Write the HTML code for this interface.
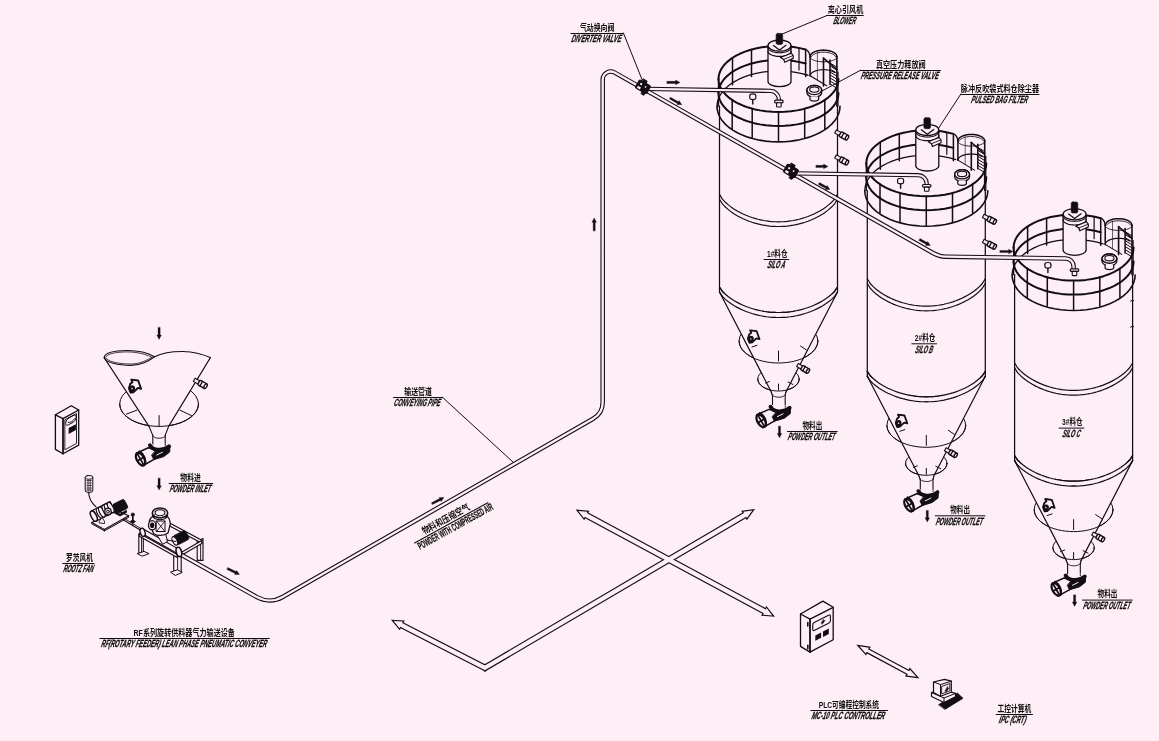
<!DOCTYPE html>
<html lang="zh"><head><meta charset="utf-8"><title>RF Rotary Feeder Lean Phase Pneumatic Conveyer</title>
<style>html,body{margin:0;padding:0;background:#feeef5;overflow:hidden}svg{display:block}text{filter:grayscale(1)}</style></head>
<body><svg width="1159" height="741" viewBox="0 0 1159 741" stroke="#120c14" fill="none" stroke-linecap="round" stroke-linejoin="round">
<rect x="0" y="0" width="1159" height="741" fill="#feeef5" stroke="none"/>
<g transform="translate(0,0)">
<path d="M805.6,49.56 L799.71,48.13 L793.57,47.06 L787.27,46.35 L780.86,46.03 L774.42,46.08 L768.03,46.51 L761.76,47.31 L755.68,48.48 L749.87,50 L744.39,51.85 L739.29,54.02 L734.65,56.47 L730.52,59.19 L726.94,62.13 L723.95,65.26 L721.58,68.56 L719.88,71.97 L718.85,75.46 L718.5,79" stroke-width="2.0" fill="none" />
<path d="M805.6,63.56 L799.71,62.13 L793.57,61.06 L787.27,60.35 L780.86,60.03 L774.42,60.08 L768.03,60.51 L761.76,61.31 L755.68,62.48 L749.87,64 L744.39,65.85 L739.29,68.02 L734.65,70.47 L730.52,73.19 L726.94,76.13 L723.95,79.26 L721.58,82.56 L719.88,85.97 L718.85,89.46 L718.5,93" stroke-width="2.0" fill="none" />
<path d="M808,75.25 L801.95,73.58 L795.63,72.3 L789.1,71.43 L782.45,70.97 L775.75,70.94 L769.08,71.32 L762.53,72.12 L756.16,73.32 L750.06,74.92 L744.3,76.9 L738.94,79.22 L734.05,81.87 L729.69,84.8 L725.91,88 L722.75,91.41 L720.26,95 L718.46,98.72 L717.37,102.54 L717,106.4" stroke-width="1.3" fill="none" />
<line x1="732.5" y1="57.81" x2="732.5" y2="84.84" stroke-width="1.5" />
<line x1="751.5" y1="49.53" x2="751.5" y2="76.5" stroke-width="1.5" />
<line x1="805.6" y1="49.56" x2="805.6" y2="76.53" stroke-width="1.5" />
<line x1="799" y1="47.99" x2="799" y2="69.99" stroke-width="1.2" />
<path d="M836.9,56.8 L836.83,56.1 L836.61,55.41 L836.24,54.73 L835.74,54.07 L835.1,53.45 L834.34,52.86 L833.46,52.32 L832.47,51.82 L831.38,51.38 L830.2,51 L828.95,50.68 L827.64,50.43 L826.29,50.25 L824.9,50.14 L823.5,50.1 L822.1,50.14 L820.71,50.25 L819.36,50.43 L818.05,50.68 L816.8,51 L815.62,51.38 L814.53,51.82 L813.54,52.32 L812.66,52.86 L811.9,53.45 L811.26,54.07 L810.76,54.73 L810.39,55.41 L810.17,56.1 L810.1,56.8" stroke-width="1.5" fill="none" />
<path d="M835.67,56.65 L835.26,56.05 L834.73,55.48 L834.07,54.93 L833.29,54.42 L832.41,53.96 L831.43,53.54 L830.36,53.17 L829.22,52.85 L828.02,52.6 L826.76,52.4 L825.47,52.27 L824.16,52.21 L822.84,52.21 L821.53,52.27 L820.24,52.4 L818.98,52.6 L817.78,52.85 L816.64,53.17 L815.57,53.54 L814.59,53.96 L813.71,54.42 L812.93,54.93 L812.27,55.48 L811.74,56.05 L811.33,56.65" stroke-width="0.9" fill="none" />
<path d="M810.1,56.8 L810.17,57.32 L810.39,57.84 L810.76,58.35 L811.26,58.83 L811.9,59.3 L812.66,59.74 L813.54,60.15 L814.53,60.52 L815.62,60.85 L816.8,61.13 L818.05,61.37 L819.36,61.56 L820.71,61.69 L822.1,61.77 L823.5,61.8 L824.9,61.77 L826.29,61.69 L827.64,61.56 L828.95,61.37 L830.2,61.13 L831.38,60.85 L832.47,60.52 L833.46,60.15 L834.34,59.74 L835.1,59.3 L835.74,58.83 L836.24,58.35 L836.61,57.84 L836.83,57.32 L836.9,56.8" stroke-width="0.9" fill="none" />
<path d="M834.48,72.39 L833.61,71.86 L832.62,71.39 L831.54,70.96 L830.37,70.59 L829.12,70.28 L827.81,70.03 L826.45,69.85 L825.06,69.74 L823.65,69.7 L822.24,69.73 L820.84,69.83 L819.47,69.99 L818.15,70.22 L816.88,70.52 L815.69,70.88 L814.59,71.29 L813.59,71.76 L812.69,72.27 L811.92,72.83 L811.27,73.42 L810.76,74.04 L810.4,74.68 L810.17,75.34 L810.1,76" stroke-width="1.2" fill="none" />
<line x1="810.1" y1="56.8" x2="810.1" y2="75.8" stroke-width="1.5" />
<line x1="817.4" y1="52.5" x2="817.4" y2="80" stroke-width="0.9" stroke-opacity="0.7"/>
<line x1="823.5" y1="58" x2="823.5" y2="86" stroke-width="1.6" />
<line x1="830" y1="60" x2="830" y2="84.5" stroke-width="1.5" />
<line x1="836.9" y1="56.8" x2="836.9" y2="106" stroke-width="1.6" />
<line x1="823.5" y1="58.2" x2="836.9" y2="69.5" stroke-width="1.6" />
<line x1="830" y1="63" x2="836.9" y2="67.2" stroke-width="1.0" />
<line x1="830" y1="66" x2="836.9" y2="70.2" stroke-width="1.0" />
<line x1="830" y1="69" x2="836.9" y2="73.2" stroke-width="1.0" />
<line x1="830" y1="72" x2="836.9" y2="76.2" stroke-width="1.0" />
<line x1="830" y1="75" x2="836.9" y2="79.2" stroke-width="1.0" />
<line x1="830" y1="78" x2="836.9" y2="82.2" stroke-width="1.0" />
<line x1="830" y1="81" x2="836.9" y2="85.2" stroke-width="1.0" />
<line x1="830" y1="84" x2="836.9" y2="88.2" stroke-width="1.0" />
<line x1="810.1" y1="75.8" x2="826.7" y2="85.8" stroke-width="1.1" />
<path d="M805.6,49.6 C808,50.5 809.6,53 810.1,56.5" stroke-width="1.3" fill="none" />
<path d="M768,46 L768,81.5 A11.5,5.2 0 0 0 791,81.5 L791,46 Z" stroke-width="1.3" fill="#feeef5" />
<ellipse cx="779.5" cy="45.6" rx="11.5" ry="5.6" stroke-width="1.3" fill="#feeef5" />
<path d="M768,47.5 L768.06,48.04 L768.25,48.58 L768.56,49.11 L768.99,49.62 L769.54,50.1 L770.2,50.56 L770.95,50.98 L771.8,51.36 L772.74,51.71 L773.75,52 L774.82,52.25 L775.95,52.45 L777.11,52.59 L778.3,52.67 L779.5,52.7 L780.7,52.67 L781.89,52.59 L783.05,52.45 L784.18,52.25 L785.25,52 L786.26,51.71 L787.2,51.36 L788.05,50.98 L788.8,50.56 L789.46,50.1 L790.01,49.62 L790.44,49.11 L790.75,48.58 L790.94,48.04 L791,47.5" stroke-width="1.1" fill="none" />
<path d="M768,51.2 L768.06,51.74 L768.25,52.28 L768.56,52.81 L768.99,53.32 L769.54,53.8 L770.2,54.26 L770.95,54.68 L771.8,55.06 L772.74,55.41 L773.75,55.7 L774.82,55.95 L775.95,56.15 L777.11,56.29 L778.3,56.37 L779.5,56.4 L780.7,56.37 L781.89,56.29 L783.05,56.15 L784.18,55.95 L785.25,55.7 L786.26,55.41 L787.2,55.06 L788.05,54.68 L788.8,54.26 L789.46,53.8 L790.01,53.32 L790.44,52.81 L790.75,52.28 L790.94,51.74 L791,51.2" stroke-width="1.2" fill="none" />
<path d="M773.5,45.5 L779.5,50 L786,45.2" stroke-width="1.2" fill="none" />
<rect x="776.1" y="33.4" width="6.6" height="11" rx="1.6" fill="#120c14" stroke-width="0.6"/>
<path d="M780.5,57.5 L791.3,53.2 L793.2,55.6 L793.2,58.4 L784.7,62.2 L783.7,59.4 Z" stroke-width="1.2" fill="#feeef5" />
<path d="M783.7,59.4 L792.5,55.8" stroke-width="0.9" fill="none" />
<ellipse cx="752.8" cy="95.6" rx="3" ry="1.7" stroke-width="1.1" fill="#feeef5" />
<path d="M749.8,95.8 L749.8,98 A3,1.6 0 0 0 755.8,98 L755.8,95.8" stroke-width="1.1" fill="#feeef5" />
<line x1="752.8" y1="99.6" x2="752.8" y2="104" stroke-width="1.4" />
<ellipse cx="814.3" cy="90" rx="7.4" ry="4.6" stroke-width="1.4" fill="#feeef5" />
<path d="M806.9,90 L806.9,92.6 A7.4,4.6 0 0 0 821.7,92.6 L821.7,90" stroke-width="1.3" fill="#feeef5" />
<ellipse cx="814.3" cy="90" rx="7.4" ry="4.6" stroke-width="1.4" fill="#feeef5" />
<ellipse cx="814.3" cy="89.6" rx="4.6" ry="2.7" stroke-width="1.1" fill="none" />
<path d="M810,96.5 L810,99.5 A4.4,2 0 0 0 818.6,99.5 L818.6,96.5" stroke-width="1.2" fill="#feeef5" />
<line x1="732.2" y1="99.99" x2="732.2" y2="128.77" stroke-width="1.5" />
<line x1="752.2" y1="108.66" x2="752.2" y2="137.49" stroke-width="1.5" />
<line x1="778.5" y1="112" x2="778.5" y2="140.9" stroke-width="1.5" />
<line x1="804.7" y1="108.69" x2="804.7" y2="137.52" stroke-width="1.5" />
<line x1="824.8" y1="99.99" x2="824.8" y2="128.77" stroke-width="1.5" />
<path d="M718.5,79 L718.83,82.45 L719.81,85.86 L721.44,89.2 L723.69,92.42 L726.54,95.5 L729.96,98.4 L733.91,101.08 L738.35,103.52 L743.23,105.7 L748.5,107.58 L754.1,109.15 L759.96,110.38 L766.03,111.28 L772.23,111.82 L778.5,112 L784.77,111.82 L790.97,111.28 L797.04,110.38 L802.9,109.15 L808.5,107.58 L813.77,105.7 L818.65,103.52 L823.09,101.08 L827.04,98.4 L830.46,95.5 L833.31,92.42 L835.56,89.2 L837.19,85.86 L838.17,82.45 L838.5,79" stroke-width="2.0" fill="none" />
<path d="M718.5,93 L718.83,96.45 L719.81,99.86 L721.44,103.2 L723.69,106.42 L726.54,109.5 L729.96,112.4 L733.91,115.08 L738.35,117.52 L743.23,119.7 L748.5,121.58 L754.1,123.15 L759.96,124.38 L766.03,125.28 L772.23,125.82 L778.5,126 L784.77,125.82 L790.97,125.28 L797.04,124.38 L802.9,123.15 L808.5,121.58 L813.77,119.7 L818.65,117.52 L823.09,115.08 L827.04,112.4 L830.46,109.5 L833.31,106.42 L835.56,103.2 L837.19,99.86 L838.17,96.45 L838.5,93" stroke-width="2.0" fill="none" />
<line x1="718.5" y1="79" x2="718.5" y2="106" stroke-width="1.3" />
<line x1="838" y1="72" x2="838" y2="106" stroke-width="1.2" />
<path d="M717,106.4 L717.34,110.11 L718.34,113.78 L720.01,117.37 L722.32,120.84 L725.24,124.15 L728.75,127.27 L732.8,130.15 L737.35,132.78 L742.35,135.12 L747.75,137.14 L753.49,138.83 L759.5,140.16 L765.71,141.12 L772.07,141.71 L778.5,141.9 L784.93,141.71 L791.29,141.12 L797.5,140.16 L803.51,138.83 L809.25,137.14 L814.65,135.12 L819.65,132.78 L824.2,130.15 L828.25,127.27 L831.76,124.15 L834.68,120.84 L836.99,117.37 L838.66,113.78 L839.66,110.11 L840,106.4" stroke-width="1.6" fill="none" />
<line x1="719.5" y1="106" x2="719.5" y2="292" stroke-width="1.25" />
<line x1="837.5" y1="106" x2="837.5" y2="292" stroke-width="1.25" />
<path d="M719.5,194.4 L722.45,199.18 L725.4,202.29 L728.35,204.88 L731.3,207.13 L734.25,209.14 L737.2,210.94 L740.15,212.55 L743.1,214.01 L746.05,215.31 L749,216.48 L751.95,217.52 L754.9,218.44 L757.85,219.24 L760.8,219.93 L763.75,220.51 L766.7,220.97 L769.65,221.34 L772.6,221.59 L775.55,221.75 L778.5,221.8 L781.45,221.75 L784.4,221.59 L787.35,221.34 L790.3,220.97 L793.25,220.51 L796.2,219.93 L799.15,219.24 L802.1,218.44 L805.05,217.52 L808,216.48 L810.95,215.31 L813.9,214.01 L816.85,212.55 L819.8,210.94 L822.75,209.14 L825.7,207.13 L828.65,204.88 L831.6,202.29 L834.55,199.18 L837.5,194.4" stroke-width="1.2" fill="none" />
<path d="M719.5,199.2 L722.45,203.96 L725.4,207.06 L728.35,209.64 L731.3,211.89 L734.25,213.89 L737.2,215.68 L740.15,217.29 L743.1,218.73 L746.05,220.04 L749,221.2 L751.95,222.24 L754.9,223.15 L757.85,223.95 L760.8,224.64 L763.75,225.21 L766.7,225.68 L769.65,226.04 L772.6,226.29 L775.55,226.45 L778.5,226.5 L781.45,226.45 L784.4,226.29 L787.35,226.04 L790.3,225.68 L793.25,225.21 L796.2,224.64 L799.15,223.95 L802.1,223.15 L805.05,222.24 L808,221.2 L810.95,220.04 L813.9,218.73 L816.85,217.29 L819.8,215.68 L822.75,213.89 L825.7,211.89 L828.65,209.64 L831.6,207.06 L834.55,203.96 L837.5,199.2" stroke-width="1.2" fill="none" />
<path d="M719.5,287 L722.45,291.45 L725.4,294.34 L728.35,296.75 L731.3,298.85 L734.25,300.72 L737.2,302.39 L740.15,303.89 L743.1,305.25 L746.05,306.46 L749,307.55 L751.95,308.52 L754.9,309.37 L757.85,310.12 L760.8,310.76 L763.75,311.3 L766.7,311.73 L769.65,312.07 L772.6,312.31 L775.55,312.45 L778.5,312.5 L781.45,312.45 L784.4,312.31 L787.35,312.07 L790.3,311.73 L793.25,311.3 L796.2,310.76 L799.15,310.12 L802.1,309.37 L805.05,308.52 L808,307.55 L810.95,306.46 L813.9,305.25 L816.85,303.89 L819.8,302.39 L822.75,300.72 L825.7,298.85 L828.65,296.75 L831.6,294.34 L834.55,291.45 L837.5,287" stroke-width="1.2" fill="none" />
<path d="M719.5,292 L722.45,296.45 L725.4,299.34 L728.35,301.75 L731.3,303.85 L734.25,305.72 L737.2,307.39 L740.15,308.89 L743.1,310.25 L746.05,311.46 L749,312.55 L751.95,313.52 L754.9,314.37 L757.85,315.12 L760.8,315.76 L763.75,316.3 L766.7,316.73 L769.65,317.07 L772.6,317.31 L775.55,317.45 L778.5,317.5 L781.45,317.45 L784.4,317.31 L787.35,317.07 L790.3,316.73 L793.25,316.3 L796.2,315.76 L799.15,315.12 L802.1,314.37 L805.05,313.52 L808,312.55 L810.95,311.46 L813.9,310.25 L816.85,308.89 L819.8,307.39 L822.75,305.72 L825.7,303.85 L828.65,301.75 L831.6,299.34 L834.55,296.45 L837.5,292" stroke-width="1.2" fill="none" />
<ellipse cx="778.5" cy="341" rx="39.4" ry="22" stroke-width="1.0" fill="none" />
<ellipse cx="778.5" cy="379" rx="20.7" ry="12" stroke-width="1.0" fill="none" />
<path d="M719.5,292 L771.3,392 L772.5,407 L785.2,407 L785.9,392 L837.5,292 L778.5,318 Z" stroke-width="0" fill="#feeef5" stroke="none"/>
<line x1="719.5" y1="292" x2="771.3" y2="392" stroke-width="1.2" />
<line x1="837.5" y1="292" x2="785.9" y2="392" stroke-width="1.2" />
<path d="M719.5,287 L722.45,291.45 L725.4,294.34 L728.35,296.75 L731.3,298.85 L734.25,300.72 L737.2,302.39 L740.15,303.89 L743.1,305.25 L746.05,306.46 L749,307.55 L751.95,308.52 L754.9,309.37 L757.85,310.12 L760.8,310.76 L763.75,311.3 L766.7,311.73 L769.65,312.07 L772.6,312.31 L775.55,312.45 L778.5,312.5 L781.45,312.45 L784.4,312.31 L787.35,312.07 L790.3,311.73 L793.25,311.3 L796.2,310.76 L799.15,310.12 L802.1,309.37 L805.05,308.52 L808,307.55 L810.95,306.46 L813.9,305.25 L816.85,303.89 L819.8,302.39 L822.75,300.72 L825.7,298.85 L828.65,296.75 L831.6,294.34 L834.55,291.45 L837.5,287" stroke-width="1.2" fill="none" />
<path d="M719.5,292 L722.45,296.45 L725.4,299.34 L728.35,301.75 L731.3,303.85 L734.25,305.72 L737.2,307.39 L740.15,308.89 L743.1,310.25 L746.05,311.46 L749,312.55 L751.95,313.52 L754.9,314.37 L757.85,315.12 L760.8,315.76 L763.75,316.3 L766.7,316.73 L769.65,317.07 L772.6,317.31 L775.55,317.45 L778.5,317.5 L781.45,317.45 L784.4,317.31 L787.35,317.07 L790.3,316.73 L793.25,316.3 L796.2,315.76 L799.15,315.12 L802.1,314.37 L805.05,313.52 L808,312.55 L810.95,311.46 L813.9,310.25 L816.85,308.89 L819.8,307.39 L822.75,305.72 L825.7,303.85 L828.65,301.75 L831.6,299.34 L834.55,296.45 L837.5,292" stroke-width="1.2" fill="none" />
<path d="M739.1,341 L739.32,343.3 L739.96,345.57 L741.03,347.8 L742.51,349.95 L744.38,352 L746.62,353.93 L749.22,355.72 L752.14,357.35 L755.34,358.8 L758.8,360.05 L762.47,361.1 L766.32,361.92 L770.31,362.52 L774.38,362.88 L778.5,363 L782.62,362.88 L786.69,362.52 L790.68,361.92 L794.53,361.1 L798.2,360.05 L801.66,358.8 L804.86,357.35 L807.78,355.72 L810.38,353.93 L812.62,352 L814.49,349.95 L815.97,347.8 L817.04,345.57 L817.68,343.3 L817.9,341" stroke-width="1.0" fill="none" />
<path d="M757.8,379 L757.91,380.25 L758.25,381.49 L758.81,382.71 L759.59,383.88 L760.57,385 L761.75,386.05 L763.12,387.03 L764.65,387.92 L766.33,388.71 L768.15,389.39 L770.08,389.96 L772.1,390.41 L774.2,390.74 L776.34,390.93 L778.5,391 L780.66,390.93 L782.8,390.74 L784.9,390.41 L786.92,389.96 L788.85,389.39 L790.67,388.71 L792.35,387.92 L793.88,387.03 L795.25,386.05 L796.43,385 L797.41,383.88 L798.19,382.71 L798.75,381.49 L799.09,380.25 L799.2,379" stroke-width="1.0" fill="none" />
<line x1="752" y1="347" x2="757" y2="345.3" stroke-width="1" />
<line x1="800.5" y1="346" x2="806.5" y2="350" stroke-width="1" />
<line x1="778.5" y1="351" x2="778.5" y2="361" stroke-width="1" />
<line x1="765.5" y1="383" x2="769.5" y2="381.5" stroke-width="1" />
<line x1="788" y1="382" x2="793" y2="384.5" stroke-width="1" />
<line x1="778.5" y1="384" x2="778.5" y2="390" stroke-width="1" />
<path d="M771.3,392 L772.5,396 L772.5,407 M785.9,392 L785.2,396 L785.2,407" stroke-width="1.1" fill="none" />
<path d="M772.4,394.2 L772.44,394.51 L772.54,394.82 L772.71,395.13 L772.95,395.42 L773.26,395.7 L773.62,395.96 L774.04,396.21 L774.52,396.43 L775.04,396.63 L775.6,396.8 L776.2,396.94 L776.82,397.05 L777.47,397.13 L778.13,397.18 L778.8,397.2 L779.47,397.18 L780.13,397.13 L780.78,397.05 L781.4,396.94 L782,396.8 L782.56,396.63 L783.08,396.43 L783.56,396.21 L783.98,395.96 L784.34,395.7 L784.65,395.42 L784.89,395.13 L785.06,394.82 L785.16,394.51 L785.2,394.2" stroke-width="1.0" fill="none" />
<g transform="translate(753.5,337) scale(1.0)">
<path d="M-3.4,-6.6 L3.2,-5.8 L6.0,2.2 L3,1.3 L-1.4,5.4 L-4.0,5.8 L-5.6,1.6 L-4.3,-2.6 L-2.2,-4.2 Z" stroke-width="1.8" fill="#feeef5" />
<ellipse cx="-2.7" cy="2.2" rx="2.3" ry="2.9" stroke-width="1.0" fill="#120c14" transform="rotate(20 -2.7 2.2)"/>
<circle cx="-2.7" cy="1.9" r="0.75" fill="#feeef5" stroke="none"/>
</g>
<g transform="translate(797.5,365) rotate(30)">
<rect x="0" y="-1.75" width="5.4" height="3.5" fill="#feeef5" stroke-width="1.1"/>
<rect x="4.800000000000001" y="-2.5" width="7.199999999999999" height="5.0" rx="1.2" fill="#feeef5" stroke-width="1.4"/>
<ellipse cx="12" cy="0" rx="1.3" ry="2.5" fill="#feeef5" stroke-width="1.4"/>
<line x1="7.4399999999999995" y1="-2.5" x2="7.4399999999999995" y2="2.5" stroke-width="1.3"/>
</g>
<g transform="translate(835.5,131.5) rotate(28)">
<rect x="0" y="-1.8199999999999998" width="5.8500000000000005" height="3.6399999999999997" fill="#feeef5" stroke-width="1.1"/>
<rect x="5.2" y="-2.6" width="7.8" height="5.2" rx="1.2" fill="#feeef5" stroke-width="1.4"/>
<ellipse cx="13" cy="0" rx="1.3" ry="2.6" fill="#feeef5" stroke-width="1.4"/>
<line x1="8.06" y1="-2.6" x2="8.06" y2="2.6" stroke-width="1.3"/>
</g>
<g transform="translate(835.5,156.5) rotate(28)">
<rect x="0" y="-1.8199999999999998" width="5.8500000000000005" height="3.6399999999999997" fill="#feeef5" stroke-width="1.1"/>
<rect x="5.2" y="-2.6" width="7.8" height="5.2" rx="1.2" fill="#feeef5" stroke-width="1.4"/>
<ellipse cx="13" cy="0" rx="1.3" ry="2.6" fill="#feeef5" stroke-width="1.4"/>
<line x1="8.06" y1="-2.6" x2="8.06" y2="2.6" stroke-width="1.3"/>
</g>
<g transform="translate(778.9,409)">
<path d="M-10,0.4 L-22,5.8 L-16,18.6 L-3,11.2 L3,4 Z" stroke-width="1.5" fill="#feeef5" />
<path d="M-2,2.5 L11.6,-1.2 L11.4,4.6 L5.5,9.2 L-4.5,12.2 L-6.5,8 Z" stroke-width="1.0" fill="#120c14" />
<path d="M-8.4,-2.2 C-6,3.4 5,3.8 10.8,-1.2" stroke-width="3.8" fill="none" />
<path d="M-6.6,-3.6 C-4.6,0.2 4,0.4 6.4,-3.6" stroke-width="1.0" fill="none" stroke="#feeef5"/>
<path d="M-1.5,7.6 L4.2,4.8" stroke-width="1.0" fill="none" stroke="#feeef5"/>
<ellipse cx="-17.8" cy="11.8" rx="3.7" ry="6.9" stroke-width="2.2" fill="#feeef5" transform="rotate(-30 -17.8 11.8)"/>
<g transform="translate(-17.8,11.8) rotate(-30)">
<line x1="0" y1="-6.2" x2="0" y2="6.2" stroke-width="1.7" />
<line x1="-3.2" y1="0" x2="3.2" y2="0" stroke-width="1.7" />
</g>
<path d="M-19.2,3.9 C-14.5,6 -11.5,12 -13.3,17.4" stroke-width="1.6" fill="none" />
</g>
<path d="M780.55,426.3 L780.55,433.4 L781.8,433.4 L779.5,437.8 L777.2,433.4 L778.45,433.4 L778.45,426.3 Z" stroke-width="0.3" fill="#120c14" />
<text x="767" y="256.5" font-size="9.3" font-family='"Liberation Sans","Noto Sans CJK SC",sans-serif' textLength="20.6" lengthAdjust="spacingAndGlyphs" font-weight="700" fill="#120c14" stroke="none" >1#料仓</text>
<line x1="764" y1="259.5" x2="788.8" y2="259.5" stroke-width="1" />
<g transform="translate(767,268.32) skewX(-14)">
<text x="0" y="0" font-size="10.5" font-family='"Liberation Sans","Noto Sans CJK SC",sans-serif' textLength="17.6" lengthAdjust="spacingAndGlyphs" font-style="italic" font-weight="bold" fill="#120c14"  stroke="#120c14" stroke-width="0.3">SILO A</text>
</g>
<text x="802.5" y="428.5" font-size="9.3" font-family='"Liberation Sans","Noto Sans CJK SC",sans-serif' textLength="19.7" lengthAdjust="spacingAndGlyphs" font-weight="700" fill="#120c14" stroke="none" >物料出</text>
<line x1="787.4" y1="431.5" x2="837.2" y2="431.5" stroke-width="1" />
<g transform="translate(787.6,440.32) skewX(-14)">
<text x="0" y="0" font-size="10.5" font-family='"Liberation Sans","Noto Sans CJK SC",sans-serif' textLength="47" lengthAdjust="spacingAndGlyphs" font-style="italic" font-weight="bold" fill="#120c14"  stroke="#120c14" stroke-width="0.3">POWDER OUTLET</text>
</g>
</g>
<g transform="translate(147.8,84.3)">
<path d="M805.6,49.56 L799.71,48.13 L793.57,47.06 L787.27,46.35 L780.86,46.03 L774.42,46.08 L768.03,46.51 L761.76,47.31 L755.68,48.48 L749.87,50 L744.39,51.85 L739.29,54.02 L734.65,56.47 L730.52,59.19 L726.94,62.13 L723.95,65.26 L721.58,68.56 L719.88,71.97 L718.85,75.46 L718.5,79" stroke-width="2.0" fill="none" />
<path d="M805.6,63.56 L799.71,62.13 L793.57,61.06 L787.27,60.35 L780.86,60.03 L774.42,60.08 L768.03,60.51 L761.76,61.31 L755.68,62.48 L749.87,64 L744.39,65.85 L739.29,68.02 L734.65,70.47 L730.52,73.19 L726.94,76.13 L723.95,79.26 L721.58,82.56 L719.88,85.97 L718.85,89.46 L718.5,93" stroke-width="2.0" fill="none" />
<path d="M808,75.25 L801.95,73.58 L795.63,72.3 L789.1,71.43 L782.45,70.97 L775.75,70.94 L769.08,71.32 L762.53,72.12 L756.16,73.32 L750.06,74.92 L744.3,76.9 L738.94,79.22 L734.05,81.87 L729.69,84.8 L725.91,88 L722.75,91.41 L720.26,95 L718.46,98.72 L717.37,102.54 L717,106.4" stroke-width="1.3" fill="none" />
<line x1="732.5" y1="57.81" x2="732.5" y2="84.84" stroke-width="1.5" />
<line x1="751.5" y1="49.53" x2="751.5" y2="76.5" stroke-width="1.5" />
<line x1="805.6" y1="49.56" x2="805.6" y2="76.53" stroke-width="1.5" />
<line x1="799" y1="47.99" x2="799" y2="69.99" stroke-width="1.2" />
<path d="M836.9,56.8 L836.83,56.1 L836.61,55.41 L836.24,54.73 L835.74,54.07 L835.1,53.45 L834.34,52.86 L833.46,52.32 L832.47,51.82 L831.38,51.38 L830.2,51 L828.95,50.68 L827.64,50.43 L826.29,50.25 L824.9,50.14 L823.5,50.1 L822.1,50.14 L820.71,50.25 L819.36,50.43 L818.05,50.68 L816.8,51 L815.62,51.38 L814.53,51.82 L813.54,52.32 L812.66,52.86 L811.9,53.45 L811.26,54.07 L810.76,54.73 L810.39,55.41 L810.17,56.1 L810.1,56.8" stroke-width="1.5" fill="none" />
<path d="M835.67,56.65 L835.26,56.05 L834.73,55.48 L834.07,54.93 L833.29,54.42 L832.41,53.96 L831.43,53.54 L830.36,53.17 L829.22,52.85 L828.02,52.6 L826.76,52.4 L825.47,52.27 L824.16,52.21 L822.84,52.21 L821.53,52.27 L820.24,52.4 L818.98,52.6 L817.78,52.85 L816.64,53.17 L815.57,53.54 L814.59,53.96 L813.71,54.42 L812.93,54.93 L812.27,55.48 L811.74,56.05 L811.33,56.65" stroke-width="0.9" fill="none" />
<path d="M810.1,56.8 L810.17,57.32 L810.39,57.84 L810.76,58.35 L811.26,58.83 L811.9,59.3 L812.66,59.74 L813.54,60.15 L814.53,60.52 L815.62,60.85 L816.8,61.13 L818.05,61.37 L819.36,61.56 L820.71,61.69 L822.1,61.77 L823.5,61.8 L824.9,61.77 L826.29,61.69 L827.64,61.56 L828.95,61.37 L830.2,61.13 L831.38,60.85 L832.47,60.52 L833.46,60.15 L834.34,59.74 L835.1,59.3 L835.74,58.83 L836.24,58.35 L836.61,57.84 L836.83,57.32 L836.9,56.8" stroke-width="0.9" fill="none" />
<path d="M834.48,72.39 L833.61,71.86 L832.62,71.39 L831.54,70.96 L830.37,70.59 L829.12,70.28 L827.81,70.03 L826.45,69.85 L825.06,69.74 L823.65,69.7 L822.24,69.73 L820.84,69.83 L819.47,69.99 L818.15,70.22 L816.88,70.52 L815.69,70.88 L814.59,71.29 L813.59,71.76 L812.69,72.27 L811.92,72.83 L811.27,73.42 L810.76,74.04 L810.4,74.68 L810.17,75.34 L810.1,76" stroke-width="1.2" fill="none" />
<line x1="810.1" y1="56.8" x2="810.1" y2="75.8" stroke-width="1.5" />
<line x1="817.4" y1="52.5" x2="817.4" y2="80" stroke-width="0.9" stroke-opacity="0.7"/>
<line x1="823.5" y1="58" x2="823.5" y2="86" stroke-width="1.6" />
<line x1="830" y1="60" x2="830" y2="84.5" stroke-width="1.5" />
<line x1="836.9" y1="56.8" x2="836.9" y2="106" stroke-width="1.6" />
<line x1="823.5" y1="58.2" x2="836.9" y2="69.5" stroke-width="1.6" />
<line x1="830" y1="63" x2="836.9" y2="67.2" stroke-width="1.0" />
<line x1="830" y1="66" x2="836.9" y2="70.2" stroke-width="1.0" />
<line x1="830" y1="69" x2="836.9" y2="73.2" stroke-width="1.0" />
<line x1="830" y1="72" x2="836.9" y2="76.2" stroke-width="1.0" />
<line x1="830" y1="75" x2="836.9" y2="79.2" stroke-width="1.0" />
<line x1="830" y1="78" x2="836.9" y2="82.2" stroke-width="1.0" />
<line x1="830" y1="81" x2="836.9" y2="85.2" stroke-width="1.0" />
<line x1="830" y1="84" x2="836.9" y2="88.2" stroke-width="1.0" />
<line x1="810.1" y1="75.8" x2="826.7" y2="85.8" stroke-width="1.1" />
<path d="M805.6,49.6 C808,50.5 809.6,53 810.1,56.5" stroke-width="1.3" fill="none" />
<path d="M768,46 L768,81.5 A11.5,5.2 0 0 0 791,81.5 L791,46 Z" stroke-width="1.3" fill="#feeef5" />
<ellipse cx="779.5" cy="45.6" rx="11.5" ry="5.6" stroke-width="1.3" fill="#feeef5" />
<path d="M768,47.5 L768.06,48.04 L768.25,48.58 L768.56,49.11 L768.99,49.62 L769.54,50.1 L770.2,50.56 L770.95,50.98 L771.8,51.36 L772.74,51.71 L773.75,52 L774.82,52.25 L775.95,52.45 L777.11,52.59 L778.3,52.67 L779.5,52.7 L780.7,52.67 L781.89,52.59 L783.05,52.45 L784.18,52.25 L785.25,52 L786.26,51.71 L787.2,51.36 L788.05,50.98 L788.8,50.56 L789.46,50.1 L790.01,49.62 L790.44,49.11 L790.75,48.58 L790.94,48.04 L791,47.5" stroke-width="1.1" fill="none" />
<path d="M768,51.2 L768.06,51.74 L768.25,52.28 L768.56,52.81 L768.99,53.32 L769.54,53.8 L770.2,54.26 L770.95,54.68 L771.8,55.06 L772.74,55.41 L773.75,55.7 L774.82,55.95 L775.95,56.15 L777.11,56.29 L778.3,56.37 L779.5,56.4 L780.7,56.37 L781.89,56.29 L783.05,56.15 L784.18,55.95 L785.25,55.7 L786.26,55.41 L787.2,55.06 L788.05,54.68 L788.8,54.26 L789.46,53.8 L790.01,53.32 L790.44,52.81 L790.75,52.28 L790.94,51.74 L791,51.2" stroke-width="1.2" fill="none" />
<path d="M773.5,45.5 L779.5,50 L786,45.2" stroke-width="1.2" fill="none" />
<rect x="776.1" y="33.4" width="6.6" height="11" rx="1.6" fill="#120c14" stroke-width="0.6"/>
<path d="M780.5,57.5 L791.3,53.2 L793.2,55.6 L793.2,58.4 L784.7,62.2 L783.7,59.4 Z" stroke-width="1.2" fill="#feeef5" />
<path d="M783.7,59.4 L792.5,55.8" stroke-width="0.9" fill="none" />
<ellipse cx="752.8" cy="95.6" rx="3" ry="1.7" stroke-width="1.1" fill="#feeef5" />
<path d="M749.8,95.8 L749.8,98 A3,1.6 0 0 0 755.8,98 L755.8,95.8" stroke-width="1.1" fill="#feeef5" />
<line x1="752.8" y1="99.6" x2="752.8" y2="104" stroke-width="1.4" />
<ellipse cx="814.3" cy="90" rx="7.4" ry="4.6" stroke-width="1.4" fill="#feeef5" />
<path d="M806.9,90 L806.9,92.6 A7.4,4.6 0 0 0 821.7,92.6 L821.7,90" stroke-width="1.3" fill="#feeef5" />
<ellipse cx="814.3" cy="90" rx="7.4" ry="4.6" stroke-width="1.4" fill="#feeef5" />
<ellipse cx="814.3" cy="89.6" rx="4.6" ry="2.7" stroke-width="1.1" fill="none" />
<path d="M810,96.5 L810,99.5 A4.4,2 0 0 0 818.6,99.5 L818.6,96.5" stroke-width="1.2" fill="#feeef5" />
<line x1="732.2" y1="99.99" x2="732.2" y2="128.77" stroke-width="1.5" />
<line x1="752.2" y1="108.66" x2="752.2" y2="137.49" stroke-width="1.5" />
<line x1="778.5" y1="112" x2="778.5" y2="140.9" stroke-width="1.5" />
<line x1="804.7" y1="108.69" x2="804.7" y2="137.52" stroke-width="1.5" />
<line x1="824.8" y1="99.99" x2="824.8" y2="128.77" stroke-width="1.5" />
<path d="M718.5,79 L718.83,82.45 L719.81,85.86 L721.44,89.2 L723.69,92.42 L726.54,95.5 L729.96,98.4 L733.91,101.08 L738.35,103.52 L743.23,105.7 L748.5,107.58 L754.1,109.15 L759.96,110.38 L766.03,111.28 L772.23,111.82 L778.5,112 L784.77,111.82 L790.97,111.28 L797.04,110.38 L802.9,109.15 L808.5,107.58 L813.77,105.7 L818.65,103.52 L823.09,101.08 L827.04,98.4 L830.46,95.5 L833.31,92.42 L835.56,89.2 L837.19,85.86 L838.17,82.45 L838.5,79" stroke-width="2.0" fill="none" />
<path d="M718.5,93 L718.83,96.45 L719.81,99.86 L721.44,103.2 L723.69,106.42 L726.54,109.5 L729.96,112.4 L733.91,115.08 L738.35,117.52 L743.23,119.7 L748.5,121.58 L754.1,123.15 L759.96,124.38 L766.03,125.28 L772.23,125.82 L778.5,126 L784.77,125.82 L790.97,125.28 L797.04,124.38 L802.9,123.15 L808.5,121.58 L813.77,119.7 L818.65,117.52 L823.09,115.08 L827.04,112.4 L830.46,109.5 L833.31,106.42 L835.56,103.2 L837.19,99.86 L838.17,96.45 L838.5,93" stroke-width="2.0" fill="none" />
<line x1="718.5" y1="79" x2="718.5" y2="106" stroke-width="1.3" />
<line x1="838" y1="72" x2="838" y2="106" stroke-width="1.2" />
<path d="M717,106.4 L717.34,110.11 L718.34,113.78 L720.01,117.37 L722.32,120.84 L725.24,124.15 L728.75,127.27 L732.8,130.15 L737.35,132.78 L742.35,135.12 L747.75,137.14 L753.49,138.83 L759.5,140.16 L765.71,141.12 L772.07,141.71 L778.5,141.9 L784.93,141.71 L791.29,141.12 L797.5,140.16 L803.51,138.83 L809.25,137.14 L814.65,135.12 L819.65,132.78 L824.2,130.15 L828.25,127.27 L831.76,124.15 L834.68,120.84 L836.99,117.37 L838.66,113.78 L839.66,110.11 L840,106.4" stroke-width="1.6" fill="none" />
<line x1="719.5" y1="106" x2="719.5" y2="292" stroke-width="1.25" />
<line x1="837.5" y1="106" x2="837.5" y2="292" stroke-width="1.25" />
<path d="M719.5,194.4 L722.45,199.18 L725.4,202.29 L728.35,204.88 L731.3,207.13 L734.25,209.14 L737.2,210.94 L740.15,212.55 L743.1,214.01 L746.05,215.31 L749,216.48 L751.95,217.52 L754.9,218.44 L757.85,219.24 L760.8,219.93 L763.75,220.51 L766.7,220.97 L769.65,221.34 L772.6,221.59 L775.55,221.75 L778.5,221.8 L781.45,221.75 L784.4,221.59 L787.35,221.34 L790.3,220.97 L793.25,220.51 L796.2,219.93 L799.15,219.24 L802.1,218.44 L805.05,217.52 L808,216.48 L810.95,215.31 L813.9,214.01 L816.85,212.55 L819.8,210.94 L822.75,209.14 L825.7,207.13 L828.65,204.88 L831.6,202.29 L834.55,199.18 L837.5,194.4" stroke-width="1.2" fill="none" />
<path d="M719.5,199.2 L722.45,203.96 L725.4,207.06 L728.35,209.64 L731.3,211.89 L734.25,213.89 L737.2,215.68 L740.15,217.29 L743.1,218.73 L746.05,220.04 L749,221.2 L751.95,222.24 L754.9,223.15 L757.85,223.95 L760.8,224.64 L763.75,225.21 L766.7,225.68 L769.65,226.04 L772.6,226.29 L775.55,226.45 L778.5,226.5 L781.45,226.45 L784.4,226.29 L787.35,226.04 L790.3,225.68 L793.25,225.21 L796.2,224.64 L799.15,223.95 L802.1,223.15 L805.05,222.24 L808,221.2 L810.95,220.04 L813.9,218.73 L816.85,217.29 L819.8,215.68 L822.75,213.89 L825.7,211.89 L828.65,209.64 L831.6,207.06 L834.55,203.96 L837.5,199.2" stroke-width="1.2" fill="none" />
<path d="M719.5,287 L722.45,291.45 L725.4,294.34 L728.35,296.75 L731.3,298.85 L734.25,300.72 L737.2,302.39 L740.15,303.89 L743.1,305.25 L746.05,306.46 L749,307.55 L751.95,308.52 L754.9,309.37 L757.85,310.12 L760.8,310.76 L763.75,311.3 L766.7,311.73 L769.65,312.07 L772.6,312.31 L775.55,312.45 L778.5,312.5 L781.45,312.45 L784.4,312.31 L787.35,312.07 L790.3,311.73 L793.25,311.3 L796.2,310.76 L799.15,310.12 L802.1,309.37 L805.05,308.52 L808,307.55 L810.95,306.46 L813.9,305.25 L816.85,303.89 L819.8,302.39 L822.75,300.72 L825.7,298.85 L828.65,296.75 L831.6,294.34 L834.55,291.45 L837.5,287" stroke-width="1.2" fill="none" />
<path d="M719.5,292 L722.45,296.45 L725.4,299.34 L728.35,301.75 L731.3,303.85 L734.25,305.72 L737.2,307.39 L740.15,308.89 L743.1,310.25 L746.05,311.46 L749,312.55 L751.95,313.52 L754.9,314.37 L757.85,315.12 L760.8,315.76 L763.75,316.3 L766.7,316.73 L769.65,317.07 L772.6,317.31 L775.55,317.45 L778.5,317.5 L781.45,317.45 L784.4,317.31 L787.35,317.07 L790.3,316.73 L793.25,316.3 L796.2,315.76 L799.15,315.12 L802.1,314.37 L805.05,313.52 L808,312.55 L810.95,311.46 L813.9,310.25 L816.85,308.89 L819.8,307.39 L822.75,305.72 L825.7,303.85 L828.65,301.75 L831.6,299.34 L834.55,296.45 L837.5,292" stroke-width="1.2" fill="none" />
<ellipse cx="778.5" cy="341" rx="39.4" ry="22" stroke-width="1.0" fill="none" />
<ellipse cx="778.5" cy="379" rx="20.7" ry="12" stroke-width="1.0" fill="none" />
<path d="M719.5,292 L771.3,392 L772.5,407 L785.2,407 L785.9,392 L837.5,292 L778.5,318 Z" stroke-width="0" fill="#feeef5" stroke="none"/>
<line x1="719.5" y1="292" x2="771.3" y2="392" stroke-width="1.2" />
<line x1="837.5" y1="292" x2="785.9" y2="392" stroke-width="1.2" />
<path d="M719.5,287 L722.45,291.45 L725.4,294.34 L728.35,296.75 L731.3,298.85 L734.25,300.72 L737.2,302.39 L740.15,303.89 L743.1,305.25 L746.05,306.46 L749,307.55 L751.95,308.52 L754.9,309.37 L757.85,310.12 L760.8,310.76 L763.75,311.3 L766.7,311.73 L769.65,312.07 L772.6,312.31 L775.55,312.45 L778.5,312.5 L781.45,312.45 L784.4,312.31 L787.35,312.07 L790.3,311.73 L793.25,311.3 L796.2,310.76 L799.15,310.12 L802.1,309.37 L805.05,308.52 L808,307.55 L810.95,306.46 L813.9,305.25 L816.85,303.89 L819.8,302.39 L822.75,300.72 L825.7,298.85 L828.65,296.75 L831.6,294.34 L834.55,291.45 L837.5,287" stroke-width="1.2" fill="none" />
<path d="M719.5,292 L722.45,296.45 L725.4,299.34 L728.35,301.75 L731.3,303.85 L734.25,305.72 L737.2,307.39 L740.15,308.89 L743.1,310.25 L746.05,311.46 L749,312.55 L751.95,313.52 L754.9,314.37 L757.85,315.12 L760.8,315.76 L763.75,316.3 L766.7,316.73 L769.65,317.07 L772.6,317.31 L775.55,317.45 L778.5,317.5 L781.45,317.45 L784.4,317.31 L787.35,317.07 L790.3,316.73 L793.25,316.3 L796.2,315.76 L799.15,315.12 L802.1,314.37 L805.05,313.52 L808,312.55 L810.95,311.46 L813.9,310.25 L816.85,308.89 L819.8,307.39 L822.75,305.72 L825.7,303.85 L828.65,301.75 L831.6,299.34 L834.55,296.45 L837.5,292" stroke-width="1.2" fill="none" />
<path d="M739.1,341 L739.32,343.3 L739.96,345.57 L741.03,347.8 L742.51,349.95 L744.38,352 L746.62,353.93 L749.22,355.72 L752.14,357.35 L755.34,358.8 L758.8,360.05 L762.47,361.1 L766.32,361.92 L770.31,362.52 L774.38,362.88 L778.5,363 L782.62,362.88 L786.69,362.52 L790.68,361.92 L794.53,361.1 L798.2,360.05 L801.66,358.8 L804.86,357.35 L807.78,355.72 L810.38,353.93 L812.62,352 L814.49,349.95 L815.97,347.8 L817.04,345.57 L817.68,343.3 L817.9,341" stroke-width="1.0" fill="none" />
<path d="M757.8,379 L757.91,380.25 L758.25,381.49 L758.81,382.71 L759.59,383.88 L760.57,385 L761.75,386.05 L763.12,387.03 L764.65,387.92 L766.33,388.71 L768.15,389.39 L770.08,389.96 L772.1,390.41 L774.2,390.74 L776.34,390.93 L778.5,391 L780.66,390.93 L782.8,390.74 L784.9,390.41 L786.92,389.96 L788.85,389.39 L790.67,388.71 L792.35,387.92 L793.88,387.03 L795.25,386.05 L796.43,385 L797.41,383.88 L798.19,382.71 L798.75,381.49 L799.09,380.25 L799.2,379" stroke-width="1.0" fill="none" />
<line x1="752" y1="347" x2="757" y2="345.3" stroke-width="1" />
<line x1="800.5" y1="346" x2="806.5" y2="350" stroke-width="1" />
<line x1="778.5" y1="351" x2="778.5" y2="361" stroke-width="1" />
<line x1="765.5" y1="383" x2="769.5" y2="381.5" stroke-width="1" />
<line x1="788" y1="382" x2="793" y2="384.5" stroke-width="1" />
<line x1="778.5" y1="384" x2="778.5" y2="390" stroke-width="1" />
<path d="M771.3,392 L772.5,396 L772.5,407 M785.9,392 L785.2,396 L785.2,407" stroke-width="1.1" fill="none" />
<path d="M772.4,394.2 L772.44,394.51 L772.54,394.82 L772.71,395.13 L772.95,395.42 L773.26,395.7 L773.62,395.96 L774.04,396.21 L774.52,396.43 L775.04,396.63 L775.6,396.8 L776.2,396.94 L776.82,397.05 L777.47,397.13 L778.13,397.18 L778.8,397.2 L779.47,397.18 L780.13,397.13 L780.78,397.05 L781.4,396.94 L782,396.8 L782.56,396.63 L783.08,396.43 L783.56,396.21 L783.98,395.96 L784.34,395.7 L784.65,395.42 L784.89,395.13 L785.06,394.82 L785.16,394.51 L785.2,394.2" stroke-width="1.0" fill="none" />
<g transform="translate(753.5,337) scale(1.0)">
<path d="M-3.4,-6.6 L3.2,-5.8 L6.0,2.2 L3,1.3 L-1.4,5.4 L-4.0,5.8 L-5.6,1.6 L-4.3,-2.6 L-2.2,-4.2 Z" stroke-width="1.8" fill="#feeef5" />
<ellipse cx="-2.7" cy="2.2" rx="2.3" ry="2.9" stroke-width="1.0" fill="#120c14" transform="rotate(20 -2.7 2.2)"/>
<circle cx="-2.7" cy="1.9" r="0.75" fill="#feeef5" stroke="none"/>
</g>
<g transform="translate(797.5,365) rotate(30)">
<rect x="0" y="-1.75" width="5.4" height="3.5" fill="#feeef5" stroke-width="1.1"/>
<rect x="4.800000000000001" y="-2.5" width="7.199999999999999" height="5.0" rx="1.2" fill="#feeef5" stroke-width="1.4"/>
<ellipse cx="12" cy="0" rx="1.3" ry="2.5" fill="#feeef5" stroke-width="1.4"/>
<line x1="7.4399999999999995" y1="-2.5" x2="7.4399999999999995" y2="2.5" stroke-width="1.3"/>
</g>
<g transform="translate(835.5,131.5) rotate(28)">
<rect x="0" y="-1.8199999999999998" width="5.8500000000000005" height="3.6399999999999997" fill="#feeef5" stroke-width="1.1"/>
<rect x="5.2" y="-2.6" width="7.8" height="5.2" rx="1.2" fill="#feeef5" stroke-width="1.4"/>
<ellipse cx="13" cy="0" rx="1.3" ry="2.6" fill="#feeef5" stroke-width="1.4"/>
<line x1="8.06" y1="-2.6" x2="8.06" y2="2.6" stroke-width="1.3"/>
</g>
<g transform="translate(835.5,156.5) rotate(28)">
<rect x="0" y="-1.8199999999999998" width="5.8500000000000005" height="3.6399999999999997" fill="#feeef5" stroke-width="1.1"/>
<rect x="5.2" y="-2.6" width="7.8" height="5.2" rx="1.2" fill="#feeef5" stroke-width="1.4"/>
<ellipse cx="13" cy="0" rx="1.3" ry="2.6" fill="#feeef5" stroke-width="1.4"/>
<line x1="8.06" y1="-2.6" x2="8.06" y2="2.6" stroke-width="1.3"/>
</g>
<g transform="translate(778.9,409)">
<path d="M-10,0.4 L-22,5.8 L-16,18.6 L-3,11.2 L3,4 Z" stroke-width="1.5" fill="#feeef5" />
<path d="M-2,2.5 L11.6,-1.2 L11.4,4.6 L5.5,9.2 L-4.5,12.2 L-6.5,8 Z" stroke-width="1.0" fill="#120c14" />
<path d="M-8.4,-2.2 C-6,3.4 5,3.8 10.8,-1.2" stroke-width="3.8" fill="none" />
<path d="M-6.6,-3.6 C-4.6,0.2 4,0.4 6.4,-3.6" stroke-width="1.0" fill="none" stroke="#feeef5"/>
<path d="M-1.5,7.6 L4.2,4.8" stroke-width="1.0" fill="none" stroke="#feeef5"/>
<ellipse cx="-17.8" cy="11.8" rx="3.7" ry="6.9" stroke-width="2.2" fill="#feeef5" transform="rotate(-30 -17.8 11.8)"/>
<g transform="translate(-17.8,11.8) rotate(-30)">
<line x1="0" y1="-6.2" x2="0" y2="6.2" stroke-width="1.7" />
<line x1="-3.2" y1="0" x2="3.2" y2="0" stroke-width="1.7" />
</g>
<path d="M-19.2,3.9 C-14.5,6 -11.5,12 -13.3,17.4" stroke-width="1.6" fill="none" />
</g>
<path d="M780.55,426.3 L780.55,433.4 L781.8,433.4 L779.5,437.8 L777.2,433.4 L778.45,433.4 L778.45,426.3 Z" stroke-width="0.3" fill="#120c14" />
<text x="767" y="256.5" font-size="9.3" font-family='"Liberation Sans","Noto Sans CJK SC",sans-serif' textLength="20.6" lengthAdjust="spacingAndGlyphs" font-weight="700" fill="#120c14" stroke="none" >2#料仓</text>
<line x1="764" y1="259.5" x2="788.8" y2="259.5" stroke-width="1" />
<g transform="translate(767,268.32) skewX(-14)">
<text x="0" y="0" font-size="10.5" font-family='"Liberation Sans","Noto Sans CJK SC",sans-serif' textLength="17.6" lengthAdjust="spacingAndGlyphs" font-style="italic" font-weight="bold" fill="#120c14"  stroke="#120c14" stroke-width="0.3">SILO B</text>
</g>
<text x="802.5" y="428.5" font-size="9.3" font-family='"Liberation Sans","Noto Sans CJK SC",sans-serif' textLength="19.7" lengthAdjust="spacingAndGlyphs" font-weight="700" fill="#120c14" stroke="none" >物料出</text>
<line x1="787.4" y1="431.5" x2="837.2" y2="431.5" stroke-width="1" />
<g transform="translate(787.6,440.32) skewX(-14)">
<text x="0" y="0" font-size="10.5" font-family='"Liberation Sans","Noto Sans CJK SC",sans-serif' textLength="47" lengthAdjust="spacingAndGlyphs" font-style="italic" font-weight="bold" fill="#120c14"  stroke="#120c14" stroke-width="0.3">POWDER OUTLET</text>
</g>
</g>
<g transform="translate(295.1,168.6)">
<path d="M805.6,49.56 L799.71,48.13 L793.57,47.06 L787.27,46.35 L780.86,46.03 L774.42,46.08 L768.03,46.51 L761.76,47.31 L755.68,48.48 L749.87,50 L744.39,51.85 L739.29,54.02 L734.65,56.47 L730.52,59.19 L726.94,62.13 L723.95,65.26 L721.58,68.56 L719.88,71.97 L718.85,75.46 L718.5,79" stroke-width="2.0" fill="none" />
<path d="M805.6,63.56 L799.71,62.13 L793.57,61.06 L787.27,60.35 L780.86,60.03 L774.42,60.08 L768.03,60.51 L761.76,61.31 L755.68,62.48 L749.87,64 L744.39,65.85 L739.29,68.02 L734.65,70.47 L730.52,73.19 L726.94,76.13 L723.95,79.26 L721.58,82.56 L719.88,85.97 L718.85,89.46 L718.5,93" stroke-width="2.0" fill="none" />
<path d="M808,75.25 L801.95,73.58 L795.63,72.3 L789.1,71.43 L782.45,70.97 L775.75,70.94 L769.08,71.32 L762.53,72.12 L756.16,73.32 L750.06,74.92 L744.3,76.9 L738.94,79.22 L734.05,81.87 L729.69,84.8 L725.91,88 L722.75,91.41 L720.26,95 L718.46,98.72 L717.37,102.54 L717,106.4" stroke-width="1.3" fill="none" />
<line x1="732.5" y1="57.81" x2="732.5" y2="84.84" stroke-width="1.5" />
<line x1="751.5" y1="49.53" x2="751.5" y2="76.5" stroke-width="1.5" />
<line x1="805.6" y1="49.56" x2="805.6" y2="76.53" stroke-width="1.5" />
<line x1="799" y1="47.99" x2="799" y2="69.99" stroke-width="1.2" />
<path d="M836.9,56.8 L836.83,56.1 L836.61,55.41 L836.24,54.73 L835.74,54.07 L835.1,53.45 L834.34,52.86 L833.46,52.32 L832.47,51.82 L831.38,51.38 L830.2,51 L828.95,50.68 L827.64,50.43 L826.29,50.25 L824.9,50.14 L823.5,50.1 L822.1,50.14 L820.71,50.25 L819.36,50.43 L818.05,50.68 L816.8,51 L815.62,51.38 L814.53,51.82 L813.54,52.32 L812.66,52.86 L811.9,53.45 L811.26,54.07 L810.76,54.73 L810.39,55.41 L810.17,56.1 L810.1,56.8" stroke-width="1.5" fill="none" />
<path d="M835.67,56.65 L835.26,56.05 L834.73,55.48 L834.07,54.93 L833.29,54.42 L832.41,53.96 L831.43,53.54 L830.36,53.17 L829.22,52.85 L828.02,52.6 L826.76,52.4 L825.47,52.27 L824.16,52.21 L822.84,52.21 L821.53,52.27 L820.24,52.4 L818.98,52.6 L817.78,52.85 L816.64,53.17 L815.57,53.54 L814.59,53.96 L813.71,54.42 L812.93,54.93 L812.27,55.48 L811.74,56.05 L811.33,56.65" stroke-width="0.9" fill="none" />
<path d="M810.1,56.8 L810.17,57.32 L810.39,57.84 L810.76,58.35 L811.26,58.83 L811.9,59.3 L812.66,59.74 L813.54,60.15 L814.53,60.52 L815.62,60.85 L816.8,61.13 L818.05,61.37 L819.36,61.56 L820.71,61.69 L822.1,61.77 L823.5,61.8 L824.9,61.77 L826.29,61.69 L827.64,61.56 L828.95,61.37 L830.2,61.13 L831.38,60.85 L832.47,60.52 L833.46,60.15 L834.34,59.74 L835.1,59.3 L835.74,58.83 L836.24,58.35 L836.61,57.84 L836.83,57.32 L836.9,56.8" stroke-width="0.9" fill="none" />
<path d="M834.48,72.39 L833.61,71.86 L832.62,71.39 L831.54,70.96 L830.37,70.59 L829.12,70.28 L827.81,70.03 L826.45,69.85 L825.06,69.74 L823.65,69.7 L822.24,69.73 L820.84,69.83 L819.47,69.99 L818.15,70.22 L816.88,70.52 L815.69,70.88 L814.59,71.29 L813.59,71.76 L812.69,72.27 L811.92,72.83 L811.27,73.42 L810.76,74.04 L810.4,74.68 L810.17,75.34 L810.1,76" stroke-width="1.2" fill="none" />
<line x1="810.1" y1="56.8" x2="810.1" y2="75.8" stroke-width="1.5" />
<line x1="817.4" y1="52.5" x2="817.4" y2="80" stroke-width="0.9" stroke-opacity="0.7"/>
<line x1="823.5" y1="58" x2="823.5" y2="86" stroke-width="1.6" />
<line x1="830" y1="60" x2="830" y2="84.5" stroke-width="1.5" />
<line x1="836.9" y1="56.8" x2="836.9" y2="106" stroke-width="1.6" />
<line x1="823.5" y1="58.2" x2="836.9" y2="69.5" stroke-width="1.6" />
<line x1="830" y1="63" x2="836.9" y2="67.2" stroke-width="1.0" />
<line x1="830" y1="66" x2="836.9" y2="70.2" stroke-width="1.0" />
<line x1="830" y1="69" x2="836.9" y2="73.2" stroke-width="1.0" />
<line x1="830" y1="72" x2="836.9" y2="76.2" stroke-width="1.0" />
<line x1="830" y1="75" x2="836.9" y2="79.2" stroke-width="1.0" />
<line x1="830" y1="78" x2="836.9" y2="82.2" stroke-width="1.0" />
<line x1="830" y1="81" x2="836.9" y2="85.2" stroke-width="1.0" />
<line x1="830" y1="84" x2="836.9" y2="88.2" stroke-width="1.0" />
<line x1="810.1" y1="75.8" x2="826.7" y2="85.8" stroke-width="1.1" />
<path d="M805.6,49.6 C808,50.5 809.6,53 810.1,56.5" stroke-width="1.3" fill="none" />
<path d="M768,46 L768,81.5 A11.5,5.2 0 0 0 791,81.5 L791,46 Z" stroke-width="1.3" fill="#feeef5" />
<ellipse cx="779.5" cy="45.6" rx="11.5" ry="5.6" stroke-width="1.3" fill="#feeef5" />
<path d="M768,47.5 L768.06,48.04 L768.25,48.58 L768.56,49.11 L768.99,49.62 L769.54,50.1 L770.2,50.56 L770.95,50.98 L771.8,51.36 L772.74,51.71 L773.75,52 L774.82,52.25 L775.95,52.45 L777.11,52.59 L778.3,52.67 L779.5,52.7 L780.7,52.67 L781.89,52.59 L783.05,52.45 L784.18,52.25 L785.25,52 L786.26,51.71 L787.2,51.36 L788.05,50.98 L788.8,50.56 L789.46,50.1 L790.01,49.62 L790.44,49.11 L790.75,48.58 L790.94,48.04 L791,47.5" stroke-width="1.1" fill="none" />
<path d="M768,51.2 L768.06,51.74 L768.25,52.28 L768.56,52.81 L768.99,53.32 L769.54,53.8 L770.2,54.26 L770.95,54.68 L771.8,55.06 L772.74,55.41 L773.75,55.7 L774.82,55.95 L775.95,56.15 L777.11,56.29 L778.3,56.37 L779.5,56.4 L780.7,56.37 L781.89,56.29 L783.05,56.15 L784.18,55.95 L785.25,55.7 L786.26,55.41 L787.2,55.06 L788.05,54.68 L788.8,54.26 L789.46,53.8 L790.01,53.32 L790.44,52.81 L790.75,52.28 L790.94,51.74 L791,51.2" stroke-width="1.2" fill="none" />
<path d="M773.5,45.5 L779.5,50 L786,45.2" stroke-width="1.2" fill="none" />
<rect x="776.1" y="33.4" width="6.6" height="11" rx="1.6" fill="#120c14" stroke-width="0.6"/>
<path d="M780.5,57.5 L791.3,53.2 L793.2,55.6 L793.2,58.4 L784.7,62.2 L783.7,59.4 Z" stroke-width="1.2" fill="#feeef5" />
<path d="M783.7,59.4 L792.5,55.8" stroke-width="0.9" fill="none" />
<ellipse cx="752.8" cy="95.6" rx="3" ry="1.7" stroke-width="1.1" fill="#feeef5" />
<path d="M749.8,95.8 L749.8,98 A3,1.6 0 0 0 755.8,98 L755.8,95.8" stroke-width="1.1" fill="#feeef5" />
<line x1="752.8" y1="99.6" x2="752.8" y2="104" stroke-width="1.4" />
<ellipse cx="814.3" cy="90" rx="7.4" ry="4.6" stroke-width="1.4" fill="#feeef5" />
<path d="M806.9,90 L806.9,92.6 A7.4,4.6 0 0 0 821.7,92.6 L821.7,90" stroke-width="1.3" fill="#feeef5" />
<ellipse cx="814.3" cy="90" rx="7.4" ry="4.6" stroke-width="1.4" fill="#feeef5" />
<ellipse cx="814.3" cy="89.6" rx="4.6" ry="2.7" stroke-width="1.1" fill="none" />
<path d="M810,96.5 L810,99.5 A4.4,2 0 0 0 818.6,99.5 L818.6,96.5" stroke-width="1.2" fill="#feeef5" />
<line x1="732.2" y1="99.99" x2="732.2" y2="128.77" stroke-width="1.5" />
<line x1="752.2" y1="108.66" x2="752.2" y2="137.49" stroke-width="1.5" />
<line x1="778.5" y1="112" x2="778.5" y2="140.9" stroke-width="1.5" />
<line x1="804.7" y1="108.69" x2="804.7" y2="137.52" stroke-width="1.5" />
<line x1="824.8" y1="99.99" x2="824.8" y2="128.77" stroke-width="1.5" />
<path d="M718.5,79 L718.83,82.45 L719.81,85.86 L721.44,89.2 L723.69,92.42 L726.54,95.5 L729.96,98.4 L733.91,101.08 L738.35,103.52 L743.23,105.7 L748.5,107.58 L754.1,109.15 L759.96,110.38 L766.03,111.28 L772.23,111.82 L778.5,112 L784.77,111.82 L790.97,111.28 L797.04,110.38 L802.9,109.15 L808.5,107.58 L813.77,105.7 L818.65,103.52 L823.09,101.08 L827.04,98.4 L830.46,95.5 L833.31,92.42 L835.56,89.2 L837.19,85.86 L838.17,82.45 L838.5,79" stroke-width="2.0" fill="none" />
<path d="M718.5,93 L718.83,96.45 L719.81,99.86 L721.44,103.2 L723.69,106.42 L726.54,109.5 L729.96,112.4 L733.91,115.08 L738.35,117.52 L743.23,119.7 L748.5,121.58 L754.1,123.15 L759.96,124.38 L766.03,125.28 L772.23,125.82 L778.5,126 L784.77,125.82 L790.97,125.28 L797.04,124.38 L802.9,123.15 L808.5,121.58 L813.77,119.7 L818.65,117.52 L823.09,115.08 L827.04,112.4 L830.46,109.5 L833.31,106.42 L835.56,103.2 L837.19,99.86 L838.17,96.45 L838.5,93" stroke-width="2.0" fill="none" />
<line x1="718.5" y1="79" x2="718.5" y2="106" stroke-width="1.3" />
<line x1="838" y1="72" x2="838" y2="106" stroke-width="1.2" />
<path d="M717,106.4 L717.34,110.11 L718.34,113.78 L720.01,117.37 L722.32,120.84 L725.24,124.15 L728.75,127.27 L732.8,130.15 L737.35,132.78 L742.35,135.12 L747.75,137.14 L753.49,138.83 L759.5,140.16 L765.71,141.12 L772.07,141.71 L778.5,141.9 L784.93,141.71 L791.29,141.12 L797.5,140.16 L803.51,138.83 L809.25,137.14 L814.65,135.12 L819.65,132.78 L824.2,130.15 L828.25,127.27 L831.76,124.15 L834.68,120.84 L836.99,117.37 L838.66,113.78 L839.66,110.11 L840,106.4" stroke-width="1.6" fill="none" />
<line x1="719.5" y1="106" x2="719.5" y2="292" stroke-width="1.25" />
<line x1="837.5" y1="106" x2="837.5" y2="292" stroke-width="1.25" />
<path d="M719.5,194.4 L722.45,199.18 L725.4,202.29 L728.35,204.88 L731.3,207.13 L734.25,209.14 L737.2,210.94 L740.15,212.55 L743.1,214.01 L746.05,215.31 L749,216.48 L751.95,217.52 L754.9,218.44 L757.85,219.24 L760.8,219.93 L763.75,220.51 L766.7,220.97 L769.65,221.34 L772.6,221.59 L775.55,221.75 L778.5,221.8 L781.45,221.75 L784.4,221.59 L787.35,221.34 L790.3,220.97 L793.25,220.51 L796.2,219.93 L799.15,219.24 L802.1,218.44 L805.05,217.52 L808,216.48 L810.95,215.31 L813.9,214.01 L816.85,212.55 L819.8,210.94 L822.75,209.14 L825.7,207.13 L828.65,204.88 L831.6,202.29 L834.55,199.18 L837.5,194.4" stroke-width="1.2" fill="none" />
<path d="M719.5,199.2 L722.45,203.96 L725.4,207.06 L728.35,209.64 L731.3,211.89 L734.25,213.89 L737.2,215.68 L740.15,217.29 L743.1,218.73 L746.05,220.04 L749,221.2 L751.95,222.24 L754.9,223.15 L757.85,223.95 L760.8,224.64 L763.75,225.21 L766.7,225.68 L769.65,226.04 L772.6,226.29 L775.55,226.45 L778.5,226.5 L781.45,226.45 L784.4,226.29 L787.35,226.04 L790.3,225.68 L793.25,225.21 L796.2,224.64 L799.15,223.95 L802.1,223.15 L805.05,222.24 L808,221.2 L810.95,220.04 L813.9,218.73 L816.85,217.29 L819.8,215.68 L822.75,213.89 L825.7,211.89 L828.65,209.64 L831.6,207.06 L834.55,203.96 L837.5,199.2" stroke-width="1.2" fill="none" />
<path d="M719.5,287 L722.45,291.45 L725.4,294.34 L728.35,296.75 L731.3,298.85 L734.25,300.72 L737.2,302.39 L740.15,303.89 L743.1,305.25 L746.05,306.46 L749,307.55 L751.95,308.52 L754.9,309.37 L757.85,310.12 L760.8,310.76 L763.75,311.3 L766.7,311.73 L769.65,312.07 L772.6,312.31 L775.55,312.45 L778.5,312.5 L781.45,312.45 L784.4,312.31 L787.35,312.07 L790.3,311.73 L793.25,311.3 L796.2,310.76 L799.15,310.12 L802.1,309.37 L805.05,308.52 L808,307.55 L810.95,306.46 L813.9,305.25 L816.85,303.89 L819.8,302.39 L822.75,300.72 L825.7,298.85 L828.65,296.75 L831.6,294.34 L834.55,291.45 L837.5,287" stroke-width="1.2" fill="none" />
<path d="M719.5,292 L722.45,296.45 L725.4,299.34 L728.35,301.75 L731.3,303.85 L734.25,305.72 L737.2,307.39 L740.15,308.89 L743.1,310.25 L746.05,311.46 L749,312.55 L751.95,313.52 L754.9,314.37 L757.85,315.12 L760.8,315.76 L763.75,316.3 L766.7,316.73 L769.65,317.07 L772.6,317.31 L775.55,317.45 L778.5,317.5 L781.45,317.45 L784.4,317.31 L787.35,317.07 L790.3,316.73 L793.25,316.3 L796.2,315.76 L799.15,315.12 L802.1,314.37 L805.05,313.52 L808,312.55 L810.95,311.46 L813.9,310.25 L816.85,308.89 L819.8,307.39 L822.75,305.72 L825.7,303.85 L828.65,301.75 L831.6,299.34 L834.55,296.45 L837.5,292" stroke-width="1.2" fill="none" />
<ellipse cx="778.5" cy="341" rx="39.4" ry="22" stroke-width="1.0" fill="none" />
<ellipse cx="778.5" cy="379" rx="20.7" ry="12" stroke-width="1.0" fill="none" />
<path d="M719.5,292 L771.3,392 L772.5,407 L785.2,407 L785.9,392 L837.5,292 L778.5,318 Z" stroke-width="0" fill="#feeef5" stroke="none"/>
<line x1="719.5" y1="292" x2="771.3" y2="392" stroke-width="1.2" />
<line x1="837.5" y1="292" x2="785.9" y2="392" stroke-width="1.2" />
<path d="M719.5,287 L722.45,291.45 L725.4,294.34 L728.35,296.75 L731.3,298.85 L734.25,300.72 L737.2,302.39 L740.15,303.89 L743.1,305.25 L746.05,306.46 L749,307.55 L751.95,308.52 L754.9,309.37 L757.85,310.12 L760.8,310.76 L763.75,311.3 L766.7,311.73 L769.65,312.07 L772.6,312.31 L775.55,312.45 L778.5,312.5 L781.45,312.45 L784.4,312.31 L787.35,312.07 L790.3,311.73 L793.25,311.3 L796.2,310.76 L799.15,310.12 L802.1,309.37 L805.05,308.52 L808,307.55 L810.95,306.46 L813.9,305.25 L816.85,303.89 L819.8,302.39 L822.75,300.72 L825.7,298.85 L828.65,296.75 L831.6,294.34 L834.55,291.45 L837.5,287" stroke-width="1.2" fill="none" />
<path d="M719.5,292 L722.45,296.45 L725.4,299.34 L728.35,301.75 L731.3,303.85 L734.25,305.72 L737.2,307.39 L740.15,308.89 L743.1,310.25 L746.05,311.46 L749,312.55 L751.95,313.52 L754.9,314.37 L757.85,315.12 L760.8,315.76 L763.75,316.3 L766.7,316.73 L769.65,317.07 L772.6,317.31 L775.55,317.45 L778.5,317.5 L781.45,317.45 L784.4,317.31 L787.35,317.07 L790.3,316.73 L793.25,316.3 L796.2,315.76 L799.15,315.12 L802.1,314.37 L805.05,313.52 L808,312.55 L810.95,311.46 L813.9,310.25 L816.85,308.89 L819.8,307.39 L822.75,305.72 L825.7,303.85 L828.65,301.75 L831.6,299.34 L834.55,296.45 L837.5,292" stroke-width="1.2" fill="none" />
<path d="M739.1,341 L739.32,343.3 L739.96,345.57 L741.03,347.8 L742.51,349.95 L744.38,352 L746.62,353.93 L749.22,355.72 L752.14,357.35 L755.34,358.8 L758.8,360.05 L762.47,361.1 L766.32,361.92 L770.31,362.52 L774.38,362.88 L778.5,363 L782.62,362.88 L786.69,362.52 L790.68,361.92 L794.53,361.1 L798.2,360.05 L801.66,358.8 L804.86,357.35 L807.78,355.72 L810.38,353.93 L812.62,352 L814.49,349.95 L815.97,347.8 L817.04,345.57 L817.68,343.3 L817.9,341" stroke-width="1.0" fill="none" />
<path d="M757.8,379 L757.91,380.25 L758.25,381.49 L758.81,382.71 L759.59,383.88 L760.57,385 L761.75,386.05 L763.12,387.03 L764.65,387.92 L766.33,388.71 L768.15,389.39 L770.08,389.96 L772.1,390.41 L774.2,390.74 L776.34,390.93 L778.5,391 L780.66,390.93 L782.8,390.74 L784.9,390.41 L786.92,389.96 L788.85,389.39 L790.67,388.71 L792.35,387.92 L793.88,387.03 L795.25,386.05 L796.43,385 L797.41,383.88 L798.19,382.71 L798.75,381.49 L799.09,380.25 L799.2,379" stroke-width="1.0" fill="none" />
<line x1="752" y1="347" x2="757" y2="345.3" stroke-width="1" />
<line x1="800.5" y1="346" x2="806.5" y2="350" stroke-width="1" />
<line x1="778.5" y1="351" x2="778.5" y2="361" stroke-width="1" />
<line x1="765.5" y1="383" x2="769.5" y2="381.5" stroke-width="1" />
<line x1="788" y1="382" x2="793" y2="384.5" stroke-width="1" />
<line x1="778.5" y1="384" x2="778.5" y2="390" stroke-width="1" />
<path d="M771.3,392 L772.5,396 L772.5,407 M785.9,392 L785.2,396 L785.2,407" stroke-width="1.1" fill="none" />
<path d="M772.4,394.2 L772.44,394.51 L772.54,394.82 L772.71,395.13 L772.95,395.42 L773.26,395.7 L773.62,395.96 L774.04,396.21 L774.52,396.43 L775.04,396.63 L775.6,396.8 L776.2,396.94 L776.82,397.05 L777.47,397.13 L778.13,397.18 L778.8,397.2 L779.47,397.18 L780.13,397.13 L780.78,397.05 L781.4,396.94 L782,396.8 L782.56,396.63 L783.08,396.43 L783.56,396.21 L783.98,395.96 L784.34,395.7 L784.65,395.42 L784.89,395.13 L785.06,394.82 L785.16,394.51 L785.2,394.2" stroke-width="1.0" fill="none" />
<g transform="translate(753.5,337) scale(1.0)">
<path d="M-3.4,-6.6 L3.2,-5.8 L6.0,2.2 L3,1.3 L-1.4,5.4 L-4.0,5.8 L-5.6,1.6 L-4.3,-2.6 L-2.2,-4.2 Z" stroke-width="1.8" fill="#feeef5" />
<ellipse cx="-2.7" cy="2.2" rx="2.3" ry="2.9" stroke-width="1.0" fill="#120c14" transform="rotate(20 -2.7 2.2)"/>
<circle cx="-2.7" cy="1.9" r="0.75" fill="#feeef5" stroke="none"/>
</g>
<g transform="translate(797.5,365) rotate(30)">
<rect x="0" y="-1.75" width="5.4" height="3.5" fill="#feeef5" stroke-width="1.1"/>
<rect x="4.800000000000001" y="-2.5" width="7.199999999999999" height="5.0" rx="1.2" fill="#feeef5" stroke-width="1.4"/>
<ellipse cx="12" cy="0" rx="1.3" ry="2.5" fill="#feeef5" stroke-width="1.4"/>
<line x1="7.4399999999999995" y1="-2.5" x2="7.4399999999999995" y2="2.5" stroke-width="1.3"/>
</g>
<path d="M835.5,132.5 q1.5,-1.5 3,-0.5" stroke-width="1.0" fill="none" />
<path d="M835.5,158.5 q1.5,-1.5 3,-0.5" stroke-width="1.0" fill="none" />
<g transform="translate(778.9,409)">
<path d="M-10,0.4 L-22,5.8 L-16,18.6 L-3,11.2 L3,4 Z" stroke-width="1.5" fill="#feeef5" />
<path d="M-2,2.5 L11.6,-1.2 L11.4,4.6 L5.5,9.2 L-4.5,12.2 L-6.5,8 Z" stroke-width="1.0" fill="#120c14" />
<path d="M-8.4,-2.2 C-6,3.4 5,3.8 10.8,-1.2" stroke-width="3.8" fill="none" />
<path d="M-6.6,-3.6 C-4.6,0.2 4,0.4 6.4,-3.6" stroke-width="1.0" fill="none" stroke="#feeef5"/>
<path d="M-1.5,7.6 L4.2,4.8" stroke-width="1.0" fill="none" stroke="#feeef5"/>
<ellipse cx="-17.8" cy="11.8" rx="3.7" ry="6.9" stroke-width="2.2" fill="#feeef5" transform="rotate(-30 -17.8 11.8)"/>
<g transform="translate(-17.8,11.8) rotate(-30)">
<line x1="0" y1="-6.2" x2="0" y2="6.2" stroke-width="1.7" />
<line x1="-3.2" y1="0" x2="3.2" y2="0" stroke-width="1.7" />
</g>
<path d="M-19.2,3.9 C-14.5,6 -11.5,12 -13.3,17.4" stroke-width="1.6" fill="none" />
</g>
<path d="M780.55,426.3 L780.55,433.4 L781.8,433.4 L779.5,437.8 L777.2,433.4 L778.45,433.4 L778.45,426.3 Z" stroke-width="0.3" fill="#120c14" />
<text x="767" y="256.5" font-size="9.3" font-family='"Liberation Sans","Noto Sans CJK SC",sans-serif' textLength="20.6" lengthAdjust="spacingAndGlyphs" font-weight="700" fill="#120c14" stroke="none" >3#料仓</text>
<line x1="764" y1="259.5" x2="788.8" y2="259.5" stroke-width="1" />
<g transform="translate(767,268.32) skewX(-14)">
<text x="0" y="0" font-size="10.5" font-family='"Liberation Sans","Noto Sans CJK SC",sans-serif' textLength="17.6" lengthAdjust="spacingAndGlyphs" font-style="italic" font-weight="bold" fill="#120c14"  stroke="#120c14" stroke-width="0.3">SILO C</text>
</g>
<text x="802.5" y="428.5" font-size="9.3" font-family='"Liberation Sans","Noto Sans CJK SC",sans-serif' textLength="19.7" lengthAdjust="spacingAndGlyphs" font-weight="700" fill="#120c14" stroke="none" >物料出</text>
<line x1="787.4" y1="431.5" x2="837.2" y2="431.5" stroke-width="1" />
<g transform="translate(787.6,440.32) skewX(-14)">
<text x="0" y="0" font-size="10.5" font-family='"Liberation Sans","Noto Sans CJK SC",sans-serif' textLength="47" lengthAdjust="spacingAndGlyphs" font-style="italic" font-weight="bold" fill="#120c14"  stroke="#120c14" stroke-width="0.3">POWDER OUTLET</text>
</g>
</g>
<path d="M112.5,513.2 L141,530.6" stroke-width="1.2" fill="none" />
<path d="M113.2,511.6 L141.6,529" stroke-width="0.9" fill="none" />
<path d="M197.2,541 L203,538.5 L203,560.4 L197.2,560.4 Z" stroke-width="1.1" fill="#feeef5" />
<line x1="200.6" y1="540" x2="200.6" y2="560.4" stroke-width="0.9" />
<path d="M169.7,523.1 L201.8,540.3 L201.8,543.3 L169.7,526.1 Z" stroke-width="1.1" fill="#feeef5" />
<path d="M177.2,554.8 L201.8,540.6 L201.8,543.6 L177.2,557.8 Z" stroke-width="1.1" fill="#feeef5" />
<path d="M138.8,534 L143.3,536 L143.3,553.5 L138.8,553.5 Z" stroke-width="1.1" fill="#feeef5" />
<line x1="141.5" y1="535.5" x2="141.5" y2="553.5" stroke-width="0.9" />
<path d="M137.6,553.5 L144,551.4 L149.1,553.6 L142.6,556 Z" stroke-width="1.0" fill="#feeef5" />
<path d="M173.7,555 L181.2,556.9 L181.2,571.8 L173.7,571.8 Z" stroke-width="1.1" fill="#feeef5" />
<line x1="177.6" y1="556.5" x2="177.6" y2="571.8" stroke-width="0.9" />
<path d="M170.9,572 L177.5,569.8 L182.3,572.4 L175.6,575.3 Z" stroke-width="1.0" fill="#feeef5" />
<path d="M143,531.5 L178,551.3" stroke="#120c14" stroke-width="5.5" fill="none" stroke-linecap="butt"/>
<path d="M143,531.5 L178,551.3" stroke="#feeef5" stroke-width="3.3" fill="none" stroke-linecap="butt"/>
<path d="M139.3,533.2 L177.2,554.6 L177.2,557.6 L139.3,536.2 Z" stroke-width="1.1" fill="#feeef5" />
<ellipse cx="142.6" cy="532.3" rx="2.4" ry="4.2" stroke-width="1.4" fill="#feeef5" transform="rotate(-15 142.6 532.3)"/>
<path d="M156,533 L165.5,533 L167.5,541.5 L163,544 Z" stroke-width="1.0" fill="#feeef5" />
<g transform="translate(181.2,537.6) rotate(-27)">
<rect x="-7.6" y="-5" width="14.5" height="10" rx="2.5" fill="#120c14" stroke-width="0.8"/>
<ellipse cx="-7.2" cy="0" rx="2.2" ry="4.6" fill="#feeef5" stroke-width="1.1"/>
</g>
<line x1="167" y1="540" x2="176" y2="541.5" stroke-width="1.0" />
<g transform="translate(0,1.5)">
<path d="M149.3,521 C149.3,517 152,514.5 155,514.5 L166.5,514.5 C169,516 170.3,519 170.2,523 L168,531.5 C164,534.6 157,534.8 153.5,532 Z" stroke-width="1.2" fill="#feeef5" />
<ellipse cx="152.2" cy="523.8" rx="3.7" ry="4.6" stroke-width="1.3" fill="#feeef5" />
<ellipse cx="152.2" cy="523.8" rx="1.5" ry="2.1" stroke-width="1.4" fill="#120c14" />
<path d="M156.5,519.5 L165,519.5 L165,530 L156.5,530 Z" stroke-width="1.0" fill="none" />
<line x1="156.5" y1="519.5" x2="165" y2="530" stroke-width="0.9" />
<line x1="165" y1="519.5" x2="156.5" y2="530" stroke-width="0.9" />
<path d="M154.2,512 L165.8,512 L165.8,516 L154.2,516 Z" stroke-width="0" fill="#feeef5" stroke="none"/>
<line x1="154.2" y1="512" x2="154.2" y2="516.5" stroke-width="1.1" />
<line x1="165.8" y1="512" x2="165.8" y2="516.5" stroke-width="1.1" />
<ellipse cx="160" cy="511.4" rx="7.7" ry="5" stroke-width="1.5" fill="#feeef5" />
<ellipse cx="160" cy="511.2" rx="4.9" ry="3" stroke-width="1.1" fill="none" />
<path d="M152.3,513.2 L152.34,513.72 L152.47,514.24 L152.68,514.75 L152.97,515.23 L153.33,515.7 L153.77,516.14 L154.28,516.55 L154.85,516.92 L155.47,517.25 L156.15,517.53 L156.87,517.77 L157.62,517.96 L158.4,518.09 L159.2,518.17 L160,518.2 L160.8,518.17 L161.6,518.09 L162.38,517.96 L163.13,517.77 L163.85,517.53 L164.53,517.25 L165.15,516.92 L165.72,516.55 L166.23,516.14 L166.67,515.7 L167.03,515.23 L167.32,514.75 L167.53,514.24 L167.66,513.72 L167.7,513.2" stroke-width="1.1" fill="none" />
<circle cx="165.92" cy="512.67" r="0.45" fill="#120c14" stroke="none"/>
<circle cx="162.66" cy="514.93" r="0.45" fill="#120c14" stroke="none"/>
<circle cx="157.85" cy="515.06" r="0.45" fill="#120c14" stroke="none"/>
<circle cx="154.29" cy="512.99" r="0.45" fill="#120c14" stroke="none"/>
<circle cx="154.08" cy="509.93" r="0.45" fill="#120c14" stroke="none"/>
<circle cx="157.34" cy="507.67" r="0.45" fill="#120c14" stroke="none"/>
<circle cx="162.15" cy="507.54" r="0.45" fill="#120c14" stroke="none"/>
<circle cx="165.71" cy="509.61" r="0.45" fill="#120c14" stroke="none"/>
</g>
<path d="M179.5,553.72 L256.94,597.09 A26,26 0 0 0 282.58,596.95 L593.15,418.78 A19,19 0 0 0 602.7,402.3 L602.7,79.55 A8,8 0 0 1 614.65,72.59 L933.41,253.32 A26,26 0 0 0 945.85,256.7 L1065.72,258.48 A8,8 0 0 1 1073.6,266.48 L1073.6,270" stroke="#120c14" stroke-width="4.5" fill="none" stroke-linecap="butt"/>
<path d="M179.5,553.72 L256.94,597.09 A26,26 0 0 0 282.58,596.95 L593.15,418.78 A19,19 0 0 0 602.7,402.3 L602.7,79.55 A8,8 0 0 1 614.65,72.59 L933.41,253.32 A26,26 0 0 0 945.85,256.7 L1065.72,258.48 A8,8 0 0 1 1073.6,266.48 L1073.6,270" stroke="#feeef5" stroke-width="2.3" fill="none" stroke-linecap="butt"/>
<ellipse cx="178.9" cy="551.9" rx="2.6" ry="4.8" stroke-width="1.5" fill="#feeef5" transform="rotate(-15 178.9 551.9)"/>
<path d="M646,88.9 L770.53,90.87 A8.5,8.5 0 0 1 778.9,99.37 L778.9,100.5" stroke="#120c14" stroke-width="4.3" fill="none" stroke-linecap="butt"/>
<path d="M646,88.9 L770.53,90.87 A8.5,8.5 0 0 1 778.9,99.37 L778.9,100.5" stroke="#feeef5" stroke-width="2.1" fill="none" stroke-linecap="butt"/>
<path d="M795,173.4 L918.32,175.18 A8.5,8.5 0 0 1 926.7,183.68 L926.7,184.8" stroke="#120c14" stroke-width="4.3" fill="none" stroke-linecap="butt"/>
<path d="M795,173.4 L918.32,175.18 A8.5,8.5 0 0 1 926.7,183.68 L926.7,184.8" stroke="#feeef5" stroke-width="2.1" fill="none" stroke-linecap="butt"/>
<rect x="774.7" y="100.2" width="8.4" height="2.6" rx="1" fill="#feeef5" stroke-width="1.2"/>
<rect x="776.6" y="102.8" width="4.6" height="4.2" rx="0.8" fill="#feeef5" stroke-width="1.1"/>
<rect x="922.5" y="184.5" width="8.4" height="2.6" rx="1" fill="#feeef5" stroke-width="1.2"/>
<rect x="924.4" y="187.1" width="4.6" height="4.2" rx="0.8" fill="#feeef5" stroke-width="1.1"/>
<rect x="1070.3" y="268.8" width="8.4" height="2.6" rx="1" fill="#feeef5" stroke-width="1.2"/>
<rect x="1072.2" y="271.4" width="4.6" height="4.2" rx="0.8" fill="#feeef5" stroke-width="1.1"/>
<g transform="translate(643,86.8) rotate(30)">
<rect x="-6.5" y="-4.6" width="13" height="9.2" rx="1.5" fill="#120c14" stroke-width="1"/>
<rect x="-3.6" y="-7" width="4.5" height="3" fill="#120c14" stroke-width="0.8"/>
<rect x="2" y="2.5" width="3" height="4.5" fill="#120c14" stroke-width="0.8"/>
<circle cx="-3" cy="-1.5" r="1.1" fill="#feeef5" stroke="none"/>
<rect x="-4.8" y="1.6" width="3.4" height="2.4" fill="#feeef5" stroke="none"/>
<circle cx="2.3" cy="-1.2" r="0.9" fill="#feeef5" stroke="none"/>
</g>
<g transform="translate(791,171) rotate(30)">
<rect x="-6.5" y="-4.6" width="13" height="9.2" rx="1.5" fill="#120c14" stroke-width="1"/>
<rect x="-3.6" y="-7" width="4.5" height="3" fill="#120c14" stroke-width="0.8"/>
<rect x="2" y="2.5" width="3" height="4.5" fill="#120c14" stroke-width="0.8"/>
<circle cx="-3" cy="-1.5" r="1.1" fill="#feeef5" stroke="none"/>
<rect x="-4.8" y="1.6" width="3.4" height="2.4" fill="#feeef5" stroke="none"/>
<circle cx="2.3" cy="-1.2" r="0.9" fill="#feeef5" stroke="none"/>
</g>
<path d="M667,81.35 L675.6,81.35 L675.6,80.1 L680,82.4 L675.6,84.7 L675.6,83.45 L667,83.45 Z" stroke-width="0.3" fill="#120c14" />
<path d="M670.51,97.28 L678.47,101.69 L679.07,100.6 L681.81,104.74 L676.84,104.62 L677.45,103.53 L669.49,99.12 Z" stroke-width="0.3" fill="#120c14" />
<path d="M816,165.35 L823.6,165.35 L823.6,164.1 L828,166.4 L823.6,168.7 L823.6,167.45 L816,167.45 Z" stroke-width="0.3" fill="#120c14" />
<path d="M819.51,182.58 L826.59,186.51 L827.2,185.42 L829.93,189.56 L824.97,189.44 L825.58,188.35 L818.49,184.42 Z" stroke-width="0.3" fill="#120c14" />
<path d="M920.01,238.58 L927.09,242.51 L927.7,241.42 L930.43,245.56 L925.47,245.44 L926.08,244.35 L918.99,240.42 Z" stroke-width="0.3" fill="#120c14" />
<path d="M1000,250.45 L1008.6,250.45 L1008.6,249.2 L1013,251.5 L1008.6,253.8 L1008.6,252.55 L1000,252.55 Z" stroke-width="0.3" fill="#120c14" />
<path d="M593.15,230.7 L593.15,222.3 L591.9,222.3 L594.2,217.9 L596.5,222.3 L595.25,222.3 L595.25,230.7 Z" stroke-width="0.3" fill="#120c14" />
<path d="M431.52,502.66 L439.63,498.53 L439.06,497.42 L444.03,497.47 L441.15,501.52 L440.58,500.4 L432.48,504.54 Z" stroke-width="0.3" fill="#120c14" />
<path d="M227.86,567.56 L236.04,571.55 L236.59,570.42 L239.53,574.42 L234.57,574.56 L235.12,573.43 L226.94,569.44 Z" stroke-width="0.3" fill="#120c14" />
<path d="M160.15,327.6 L160.15,335 L161.4,335 L159.1,339.4 L156.8,335 L158.05,335 L158.05,327.6 Z" stroke-width="0.3" fill="#120c14" />
<path d="M160.15,478.3 L160.15,485.7 L161.4,485.7 L159.1,490.1 L156.8,485.7 L158.05,485.7 L158.05,478.3 Z" stroke-width="0.3" fill="#120c14" />
<path d="M578.3,510.9 L587.54,511.67 L586.78,513.08 L765.81,609.52 L766.57,608.11 L772.3,615.4 L763.06,614.63 L763.82,613.22 L584.79,516.78 L584.03,518.19 Z" stroke-width="2.4" fill="#120c14" stroke-linejoin="miter"/>
<path d="M483.94,665.99 L744.01,513.1 L743.2,511.72 L752.4,510.6 L746.95,518.1 L746.14,516.72 L486.06,669.61 Z" stroke-width="2.4" fill="#120c14" stroke-linejoin="miter"/>
<path d="M484.04,669.67 L400.21,626.74 L399.48,628.17 L393.6,621 L402.85,621.58 L402.12,623 L485.96,665.93 Z" stroke-width="2.4" fill="#120c14" stroke-linejoin="miter"/>
<path d="M482.8,667.8 L485,665.4 L487.2,667.8 L485,670.4 Z" stroke-width="2.4" fill="#120c14" stroke-linejoin="miter"/>
<path d="M578.3,510.9 L587.54,511.67 L586.78,513.08 L765.81,609.52 L766.57,608.11 L772.3,615.4 L763.06,614.63 L763.82,613.22 L584.79,516.78 L584.03,518.19 Z" stroke-width="0" fill="#feeef5" stroke="none"/>
<path d="M483.94,665.99 L744.01,513.1 L743.2,511.72 L752.4,510.6 L746.95,518.1 L746.14,516.72 L486.06,669.61 Z" stroke-width="0" fill="#feeef5" stroke="none"/>
<path d="M484.04,669.67 L400.21,626.74 L399.48,628.17 L393.6,621 L402.85,621.58 L402.12,623 L485.96,665.93 Z" stroke-width="0" fill="#feeef5" stroke="none"/>
<path d="M482.8,667.8 L485,665.4 L487.2,667.8 L485,670.4 Z" stroke-width="0" fill="#feeef5" stroke="none"/>
<path d="M859.4,646.3 L868.89,647.64 L868.04,649.22 L909.17,671.23 L910.02,669.64 L916.4,676.8 L906.91,675.46 L907.76,673.88 L866.63,651.87 L865.78,653.46 Z" stroke-width="2.4" fill="#120c14" stroke-linejoin="miter"/>
<path d="M859.4,646.3 L868.89,647.64 L868.04,649.22 L909.17,671.23 L910.02,669.64 L916.4,676.8 L906.91,675.46 L907.76,673.88 L866.63,651.87 L865.78,653.46 Z" stroke-width="0" fill="#feeef5" stroke="none"/>
<path d="M800.5,614 L822.9,601.1 L833.2,607.3 L833.2,639.7 L810,652.1 L800.5,646.4 Z" stroke-width="1.3" fill="#feeef5" />
<path d="M800.5,614 L810,619.1 L833.2,607.3" stroke-width="1.3" fill="none" />
<line x1="810" y1="619.1" x2="810" y2="652.1" stroke-width="1.8" />
<g transform="matrix(23.2,-11.8,0,1,810,619.1)">
<rect x="0.12" y="5.6" width="0.76" height="8" rx="0.08" ry="1.6" fill="none" stroke-width="1.1" vector-effect="non-scaling-stroke"/>
<rect x="0.23" y="19" width="0.25" height="5.4" fill="#120c14" stroke="none"/>
<rect x="0.56" y="19" width="0.25" height="5.4" fill="#120c14" stroke="none"/>
</g>
<path d="M821.3,622.8 l2.2,-3.4 l0.2,1.8 l1.4,-0.9 l-2.8,3.8 z" stroke-width="0.6" fill="#120c14" />
<line x1="807.8" y1="622.5" x2="807.8" y2="626" stroke-width="1.6" />
<line x1="807.8" y1="645.3" x2="807.8" y2="648.8" stroke-width="1.6" />
<path d="M55.4,414.8 L71.3,405.7 L78.7,410 L78.7,445.1 L63,453.7 L55.4,449.4 Z" stroke-width="1.3" fill="#feeef5" />
<path d="M55.4,414.8 L63,418.6 L78.7,410" stroke-width="1.3" fill="none" />
<line x1="63" y1="418.6" x2="63" y2="453.7" stroke-width="1.8" />
<g transform="matrix(15.7,-8.6,0,1,63,418.6)">
<rect x="0.14" y="2.2" width="0.72" height="30" fill="none" stroke-width="0.9" vector-effect="non-scaling-stroke"/>
<rect x="0.17" y="2.6" width="0.66" height="6.6" rx="0.2" ry="2.8" fill="none" stroke-width="1.0" vector-effect="non-scaling-stroke"/>
<rect x="0.36" y="12.6" width="0.46" height="5.8" fill="#120c14" stroke="none"/>
</g>
<path d="M68,422.3 q3.5,1.2 6.6,-3.6" stroke-width="0.9" fill="none" />
<path d="M938.9,704.6 L957.3,693.1 L963,698.3 L945.2,709.2 Z" stroke-width="0.8" fill="#120c14" />
<path d="M931.5,692.6 L941,689 L955.5,693.4 L955.5,696.8 L944,702.5 L931.5,696.5 Z" stroke-width="1.2" fill="#feeef5" />
<path d="M931.5,692.6 L944,698 L955.5,693.4" stroke-width="1.0" fill="none" />
<line x1="944" y1="698" x2="944" y2="702.5" stroke-width="1.0" />
<path d="M933.5,682 L944.5,679.3 L951.3,681.2 L951.3,692.3 L940.5,696.2 L933.5,692.6 Z" stroke-width="1.2" fill="#feeef5" />
<path d="M933.5,682 L940.5,684.6 L951.3,681.2" stroke-width="1.0" fill="none" />
<line x1="940.5" y1="684.6" x2="940.5" y2="696.2" stroke-width="1.0" />
<path d="M942,686.3 L949.8,683.6 L949.8,690.8 L942,693.8 Z" stroke-width="0.9" fill="none" />
<path d="M945,691 l2.6,-4.6 l0.2,2 l1.2,-0.6 l-2.6,4 z" stroke-width="0.5" fill="#120c14" />
<ellipse cx="159.1" cy="404" rx="39.4" ry="22.4" stroke-width="1.0" fill="none" />
<path d="M104.2,357.6 C104.6,352.5 116,350.6 127.5,350.5 C139,350.5 149,353.5 154.5,356.8 C163,352.6 174,351.4 183,351.5 C193,351.8 203,354.3 210.4,357.6 L168.6,426.4 L165.2,435.4 L165.2,446 L152.8,446 L152.8,435.4 L149,426.4 Z" stroke-width="0" fill="#feeef5" stroke="none"/>
<path d="M104.2,357.6 C104.6,352.5 116,350.6 127.5,350.5 C139,350.5 149,353.5 154.5,356.8 C163,352.6 174,351.4 183,351.5 C193,351.8 203,354.3 210.4,357.6" stroke-width="1.1" fill="none" />
<path d="M104.2,357.6 C105.5,362.5 118,365.3 131,365.4 C142,365.3 149,360.5 154.5,356.8" stroke-width="1.1" fill="none" />
<path d="M105.8,357.9 C107.5,361.7 119,364 130.5,364 C141,363.9 147.5,359.8 152.3,357" stroke-width="0.8" fill="none" />
<path d="M106,356.8 C107.5,353.5 117,351.9 127.5,351.9 C137.5,352 146,354.3 151.3,357" stroke-width="0.8" fill="none" />
<line x1="104.2" y1="357.6" x2="149" y2="426.4" stroke-width="1.1" />
<line x1="210.4" y1="357.6" x2="168.6" y2="426.4" stroke-width="1.1" />
<path d="M149,426.4 L152.8,435.4 L152.8,445.3 M168.6,426.4 L165.2,435.4 L165.2,445.3" stroke-width="1.1" fill="none" />
<path d="M152.9,435.4 L152.93,435.69 L153.04,435.98 L153.2,436.27 L153.44,436.54 L153.73,436.8 L154.08,437.05 L154.49,437.27 L154.95,437.48 L155.46,437.67 L156,437.82 L156.58,437.96 L157.18,438.06 L157.81,438.14 L158.45,438.18 L159.1,438.2 L159.75,438.18 L160.39,438.14 L161.02,438.06 L161.62,437.96 L162.2,437.82 L162.74,437.67 L163.25,437.48 L163.71,437.27 L164.12,437.05 L164.47,436.8 L164.76,436.54 L165,436.27 L165.16,435.98 L165.27,435.69 L165.3,435.4" stroke-width="1.0" fill="none" />
<path d="M119.7,404 L119.92,406.34 L120.56,408.66 L121.63,410.92 L123.11,413.11 L124.98,415.2 L127.22,417.17 L129.82,418.99 L132.74,420.65 L135.94,422.12 L139.4,423.4 L143.07,424.46 L146.92,425.3 L150.91,425.91 L154.98,426.28 L159.1,426.4 L163.22,426.28 L167.29,425.91 L171.28,425.3 L175.13,424.46 L178.8,423.4 L182.26,422.12 L185.46,420.65 L188.38,418.99 L190.98,417.17 L193.22,415.2 L195.09,413.11 L196.57,410.92 L197.64,408.66 L198.28,406.34 L198.5,404" stroke-width="1.0" fill="none" />
<line x1="126.3" y1="414.2" x2="136.8" y2="410.2" stroke-width="1" />
<line x1="180" y1="410.2" x2="191.5" y2="415.6" stroke-width="1" />
<line x1="159.1" y1="415.6" x2="159.1" y2="426.4" stroke-width="1" />
<g transform="translate(134.8,386.6) scale(1.05)">
<path d="M-3.4,-6.6 L3.2,-5.8 L6.0,2.2 L3,1.3 L-1.4,5.4 L-4.0,5.8 L-5.6,1.6 L-4.3,-2.6 L-2.2,-4.2 Z" stroke-width="1.8" fill="#feeef5" />
<ellipse cx="-2.7" cy="2.2" rx="2.3" ry="2.9" stroke-width="1.0" fill="#120c14" transform="rotate(20 -2.7 2.2)"/>
<circle cx="-2.7" cy="1.9" r="0.75" fill="#feeef5" stroke="none"/>
</g>
<g transform="translate(194.2,379.8) rotate(29)">
<rect x="0" y="-1.8199999999999998" width="5.8500000000000005" height="3.6399999999999997" fill="#feeef5" stroke-width="1.1"/>
<rect x="5.2" y="-2.6" width="7.8" height="5.2" rx="1.2" fill="#feeef5" stroke-width="1.4"/>
<ellipse cx="13" cy="0" rx="1.3" ry="2.6" fill="#feeef5" stroke-width="1.4"/>
<line x1="8.06" y1="-2.6" x2="8.06" y2="2.6" stroke-width="1.3"/>
</g>
<g transform="translate(158.3,447.4)">
<path d="M-10,0.4 L-22,5.8 L-16,18.6 L-3,11.2 L3,4 Z" stroke-width="1.5" fill="#feeef5" />
<path d="M-2,2.5 L11.6,-1.2 L11.4,4.6 L5.5,9.2 L-4.5,12.2 L-6.5,8 Z" stroke-width="1.0" fill="#120c14" />
<path d="M-8.4,-2.2 C-6,3.4 5,3.8 10.8,-1.2" stroke-width="3.8" fill="none" />
<path d="M-6.6,-3.6 C-4.6,0.2 4,0.4 6.4,-3.6" stroke-width="1.0" fill="none" stroke="#feeef5"/>
<path d="M-1.5,7.6 L4.2,4.8" stroke-width="1.0" fill="none" stroke="#feeef5"/>
<ellipse cx="-17.8" cy="11.8" rx="3.7" ry="6.9" stroke-width="2.2" fill="#feeef5" transform="rotate(-30 -17.8 11.8)"/>
<g transform="translate(-17.8,11.8) rotate(-30)">
<line x1="0" y1="-6.2" x2="0" y2="6.2" stroke-width="1.7" />
<line x1="-3.2" y1="0" x2="3.2" y2="0" stroke-width="1.7" />
</g>
<path d="M-19.2,3.9 C-14.5,6 -11.5,12 -13.3,17.4" stroke-width="1.6" fill="none" />
</g>
<rect x="85.2" y="475.6" width="7.6" height="16.7" rx="2.2" fill="#feeef5" stroke-width="1.0"/>
<path d="M85.2,477.6 L85.22,477.77 L85.28,477.93 L85.39,478.09 L85.53,478.25 L85.71,478.4 L85.93,478.54 L86.18,478.67 L86.46,478.79 L86.77,478.89 L87.1,478.99 L87.45,479.06 L87.83,479.12 L88.21,479.17 L88.6,479.19 L89,479.2 L89.4,479.19 L89.79,479.17 L90.17,479.12 L90.55,479.06 L90.9,478.99 L91.23,478.89 L91.54,478.79 L91.82,478.67 L92.07,478.54 L92.29,478.4 L92.47,478.25 L92.61,478.09 L92.72,477.93 L92.78,477.77 L92.8,477.6" stroke-width="0.9" fill="none" />
<line x1="86.8" y1="480.5" x2="91.4" y2="480.5" stroke-width="0.7" />
<line x1="86.8" y1="483" x2="91.4" y2="483" stroke-width="0.7" />
<line x1="86.8" y1="485.5" x2="91.4" y2="485.5" stroke-width="0.7" />
<line x1="86.8" y1="488" x2="91.4" y2="488" stroke-width="0.7" />
<line x1="86.8" y1="490" x2="91.4" y2="490" stroke-width="0.7" />
<line x1="88" y1="479.5" x2="88" y2="491" stroke-width="0.7" />
<line x1="90.2" y1="479.5" x2="90.2" y2="491" stroke-width="0.7" />
<path d="M88.7,492.3 C88.7,499 91.5,503 96,506.8" stroke-width="1.1" fill="none" />
<path d="M91.8,522.4 L104.4,529.4 L128.7,515.8 L115.6,509.8 Z" stroke-width="1.1" fill="#feeef5" />
<path d="M91.8,522.4 L91.8,523.8 L104.4,530.9 L128.7,517.3 L128.7,515.8" stroke-width="1.0" fill="none" />
<line x1="104.4" y1="529.4" x2="104.4" y2="530.9" stroke-width="1.0" />
<g transform="translate(120.3,506.3) rotate(-27)">
<rect x="-6.5" y="-5" width="13" height="10" rx="2" fill="#120c14" stroke-width="0.8"/>
</g>
<path d="M113.5,510.5 L120,514 L126.5,510.2 L126.5,512.4 L120,516 L113.5,512.6 Z" stroke-width="0.8" fill="#120c14" />
<g transform="translate(93.8,516.1) rotate(-27)">
<path d="M0,-5.6 L21,-5.6 L21,5.6 L0,5.6 Z" fill="#feeef5" stroke-width="1.2"/>
<ellipse cx="6.5" cy="0" rx="2.3" ry="5.6" fill="#feeef5" stroke-width="1.2"/>
<ellipse cx="9" cy="0" rx="2.3" ry="5.6" fill="#feeef5" stroke-width="1.2"/>
<ellipse cx="13" cy="0" rx="2.3" ry="5.6" fill="#feeef5" stroke-width="1.2"/>
<ellipse cx="15.5" cy="0" rx="2.3" ry="5.6" fill="#feeef5" stroke-width="1.2"/>
<ellipse cx="19" cy="0" rx="2.3" ry="5.6" fill="#feeef5" stroke-width="1.2"/>
<ellipse cx="0" cy="0" rx="2.6" ry="5.6" fill="#feeef5" stroke-width="1.5"/>
</g>
<path d="M99.5,521 L102,517.5 L104.5,521.3 L104.5,523.5 L99.5,523 Z" stroke-width="0.9" fill="#feeef5" />
<ellipse cx="108" cy="511.6" rx="3.2" ry="3.4" stroke-width="1.3" fill="#feeef5" />
<ellipse cx="108" cy="511.6" rx="1.4" ry="1.5" stroke-width="1.0" fill="none" />
<circle cx="132.8" cy="514.6" r="1.7" fill="#120c14" stroke-width="0.6"/>
<line x1="132.8" y1="515" x2="132.8" y2="521" stroke-width="1.7" />
<ellipse cx="132.8" cy="521.6" rx="2.2" ry="1.2" stroke-width="1.0" fill="#120c14" />
<line x1="132.8" y1="522" x2="132.8" y2="525" stroke-width="1.0" />
<text x="579.9" y="30.5" font-size="9.3" font-family='"Liberation Sans","Noto Sans CJK SC",sans-serif' textLength="34.5" lengthAdjust="spacingAndGlyphs" font-weight="700" fill="#120c14" stroke="none" >气动换向阀</text>
<line x1="570.9" y1="33.5" x2="623.4" y2="33.5" stroke-width="1" />
<g transform="translate(570.9,42.32) skewX(-14)">
<text x="0" y="0" font-size="10.5" font-family='"Liberation Sans","Noto Sans CJK SC",sans-serif' textLength="49.9" lengthAdjust="spacingAndGlyphs" font-style="italic" font-weight="bold" fill="#120c14"  stroke="#120c14" stroke-width="0.3">DIVERTER VALVE</text>
</g>
<line x1="623.4" y1="33" x2="642" y2="79.5" stroke-width="1" />
<text x="827.7" y="12.5" font-size="9.3" font-family='"Liberation Sans","Noto Sans CJK SC",sans-serif' textLength="35.6" lengthAdjust="spacingAndGlyphs" font-weight="700" fill="#120c14" stroke="none" >离心引风机</text>
<line x1="826.5" y1="15.5" x2="863.3" y2="15.5" stroke-width="1" />
<g transform="translate(832.9,24.32) skewX(-14)">
<text x="0" y="0" font-size="10.5" font-family='"Liberation Sans","Noto Sans CJK SC",sans-serif' textLength="22.4" lengthAdjust="spacingAndGlyphs" font-style="italic" font-weight="bold" fill="#120c14"  stroke="#120c14" stroke-width="0.3">BLOWER</text>
</g>
<line x1="826.5" y1="15.7" x2="781" y2="34.5" stroke-width="1" />
<text x="875.9" y="67.5" font-size="9.3" font-family='"Liberation Sans","Noto Sans CJK SC",sans-serif' textLength="49.7" lengthAdjust="spacingAndGlyphs" font-weight="700" fill="#120c14" stroke="none" >真空压力释放阀</text>
<line x1="860.4" y1="70.5" x2="940.5" y2="70.5" stroke-width="1" />
<g transform="translate(860.4,79.32) skewX(-14)">
<text x="0" y="0" font-size="10.5" font-family='"Liberation Sans","Noto Sans CJK SC",sans-serif' textLength="77.7" lengthAdjust="spacingAndGlyphs" font-style="italic" font-weight="bold" fill="#120c14"  stroke="#120c14" stroke-width="0.3">PRESSURE RELEASE VALVE</text>
</g>
<line x1="860.4" y1="70.3" x2="820.5" y2="91.8" stroke-width="1" />
<text x="960.8" y="91.5" font-size="9.3" font-family='"Liberation Sans","Noto Sans CJK SC",sans-serif' textLength="78.3" lengthAdjust="spacingAndGlyphs" font-weight="700" fill="#120c14" stroke="none" >脉冲反吹袋式料仓除尘器</text>
<line x1="960.8" y1="94.5" x2="1039.1" y2="94.5" stroke-width="1" />
<g transform="translate(970.8,103.32) skewX(-14)">
<text x="0" y="0" font-size="10.5" font-family='"Liberation Sans","Noto Sans CJK SC",sans-serif' textLength="56.4" lengthAdjust="spacingAndGlyphs" font-style="italic" font-weight="bold" fill="#120c14"  stroke="#120c14" stroke-width="0.3">PULSED BAG FILTER</text>
</g>
<line x1="960.8" y1="94.1" x2="938.7" y2="128" stroke-width="1" />
<text x="404.2" y="394.5" font-size="9.3" font-family='"Liberation Sans","Noto Sans CJK SC",sans-serif' textLength="27.8" lengthAdjust="spacingAndGlyphs" font-weight="700" fill="#120c14" stroke="none" >输送管道</text>
<line x1="393.5" y1="397.5" x2="442.7" y2="397.5" stroke-width="1" />
<g transform="translate(393.5,406.32) skewX(-14)">
<text x="0" y="0" font-size="10.5" font-family='"Liberation Sans","Noto Sans CJK SC",sans-serif' textLength="46.5" lengthAdjust="spacingAndGlyphs" font-style="italic" font-weight="bold" fill="#120c14"  stroke="#120c14" stroke-width="0.3">CONVEYING PIPE</text>
</g>
<line x1="442.7" y1="397.5" x2="513.4" y2="462.4" stroke-width="1" />
<text x="180.3" y="480.5" font-size="9.3" font-family='"Liberation Sans","Noto Sans CJK SC",sans-serif' textLength="20.5" lengthAdjust="spacingAndGlyphs" font-weight="700" fill="#120c14" stroke="none" >物料进</text>
<line x1="169.1" y1="483.5" x2="212.7" y2="483.5" stroke-width="1" />
<g transform="translate(169.3,492.32) skewX(-14)">
<text x="0" y="0" font-size="10.5" font-family='"Liberation Sans","Noto Sans CJK SC",sans-serif' textLength="41" lengthAdjust="spacingAndGlyphs" font-style="italic" font-weight="bold" fill="#120c14"  stroke="#120c14" stroke-width="0.3">POWDER INLET</text>
</g>
<text x="65.9" y="560.5" font-size="9.3" font-family='"Liberation Sans","Noto Sans CJK SC",sans-serif' textLength="27" lengthAdjust="spacingAndGlyphs" font-weight="700" fill="#120c14" stroke="none" >罗茨风机</text>
<line x1="62.7" y1="563.5" x2="94" y2="563.5" stroke-width="1" />
<g transform="translate(62.9,572.32) skewX(-14)">
<text x="0" y="0" font-size="10.5" font-family='"Liberation Sans","Noto Sans CJK SC",sans-serif' textLength="30.1" lengthAdjust="spacingAndGlyphs" font-style="italic" font-weight="bold" fill="#120c14"  stroke="#120c14" stroke-width="0.3">ROOTZ FAN</text>
</g>
<text x="133.5" y="635.5" font-size="9.3" font-family='"Liberation Sans","Noto Sans CJK SC",sans-serif' textLength="101.4" lengthAdjust="spacingAndGlyphs" font-weight="700" fill="#120c14" stroke="none" >RF系列旋转供料器气力输送设备</text>
<line x1="99.9" y1="638.5" x2="269.3" y2="638.5" stroke-width="1" />
<g transform="translate(100.8,647.32) skewX(-14)">
<text x="0" y="0" font-size="10.5" font-family='"Liberation Sans","Noto Sans CJK SC",sans-serif' textLength="165.6" lengthAdjust="spacingAndGlyphs" font-style="italic" font-weight="bold" fill="#120c14"  stroke="#120c14" stroke-width="0.3">RF(ROTARY FEEDER) LEAN PHASE PNEUMATIC CONVEYER</text>
</g>
<text x="818.7" y="707.5" font-size="9.3" font-family='"Liberation Sans","Noto Sans CJK SC",sans-serif' textLength="60.3" lengthAdjust="spacingAndGlyphs" font-weight="700" fill="#120c14" stroke="none" >PLC可编程控制系统</text>
<line x1="810.9" y1="710.5" x2="887.5" y2="710.5" stroke-width="1" />
<g transform="translate(811.2,719.32) skewX(-14)">
<text x="0" y="0" font-size="10.5" font-family='"Liberation Sans","Noto Sans CJK SC",sans-serif' textLength="73.1" lengthAdjust="spacingAndGlyphs" font-style="italic" font-weight="bold" fill="#120c14"  stroke="#120c14" stroke-width="0.3">MC-10 PLC CONTROLLER</text>
</g>
<text x="997.4" y="711.5" font-size="9.3" font-family='"Liberation Sans","Noto Sans CJK SC",sans-serif' textLength="33.9" lengthAdjust="spacingAndGlyphs" font-weight="700" fill="#120c14" stroke="none" >工控计算机</text>
<line x1="996.2" y1="714.5" x2="1032.5" y2="714.5" stroke-width="1" />
<g transform="translate(998.6,723.32) skewX(-14)">
<text x="0" y="0" font-size="10.5" font-family='"Liberation Sans","Noto Sans CJK SC",sans-serif' textLength="27" lengthAdjust="spacingAndGlyphs" font-style="italic" font-weight="bold" fill="#120c14"  stroke="#120c14" stroke-width="0.3">IPC (CRT)</text>
</g>
<g transform="translate(414.6,543.1) rotate(-28.9)">
<text x="12.5" y="-2.8" font-size="9.3" font-family='"Liberation Sans","Noto Sans CJK SC",sans-serif' textLength="53" lengthAdjust="spacingAndGlyphs" font-weight="700" fill="#120c14" stroke="none" >物料和压缩空气</text>
<line x1="0" y1="0" x2="83.7" y2="0" stroke-width="1.1" />
<text x="1.5" y="8.5" font-size="10.2" font-family='"Liberation Sans","Noto Sans CJK SC",sans-serif' textLength="84.5" lengthAdjust="spacingAndGlyphs" font-weight="bold" fill="#120c14"  stroke="#120c14" stroke-width="0.25">POWDER WITH COMPRESSED AIR</text>
</g>
</svg></body></html>
